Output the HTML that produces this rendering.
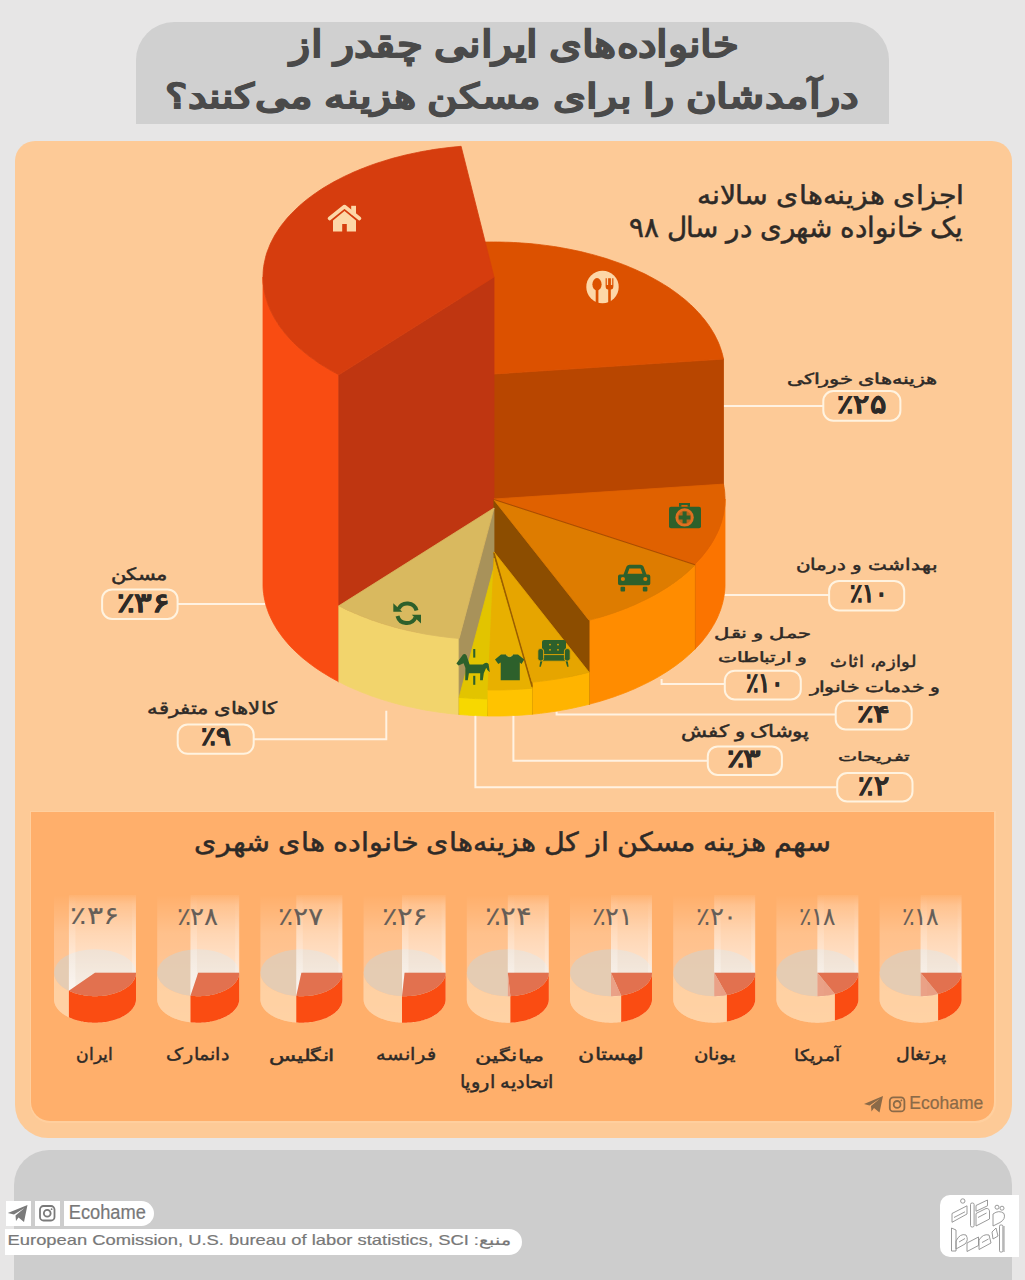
<!DOCTYPE html>
<html lang="fa"><head><meta charset="utf-8">
<style>
*{margin:0;padding:0;box-sizing:border-box}
html,body{width:1025px;height:1280px;overflow:hidden;background:#e7e6e6}
body{position:relative;font-family:"Liberation Sans",sans-serif;color:#333}
.a{position:absolute}
.t{position:absolute;white-space:nowrap;transform-origin:0 0}
svg{position:absolute;left:0;top:0}
</style></head><body>
<div class="a" style="left:135.5px;top:21.5px;width:753px;height:102px;background:#d0d0d0;border-radius:38px 38px 0 0"></div>
<div class="a" style="left:14.5px;top:140.7px;width:997px;height:997.5px;background:#fdca97;border-radius:20px 20px 33px 33px"></div>
<div class="a" style="left:29.5px;top:810.5px;width:966px;height:312px;background:#ffcf9e;border-radius:0 0 20px 20px"></div>
<div class="a" style="left:31px;top:812px;width:963px;height:309px;background:#ffaf6b;border-radius:0 0 19px 19px"></div>
<div class="a" style="left:14px;top:1150px;width:998px;height:140px;background:#cdcdcd;border-radius:35px 35px 0 0"></div>
<svg width="1025" height="1280" viewBox="0 0 1025 1280">
<defs>
<linearGradient id="tube" x1="0" y1="0" x2="0" y2="1">
<stop offset="0" stop-color="#fff" stop-opacity="0"/>
<stop offset="0.3" stop-color="#fff" stop-opacity="0.22"/>
<stop offset="1" stop-color="#fff" stop-opacity="0.36"/>
</linearGradient>
<linearGradient id="hl" x1="0" y1="0" x2="0" y2="1">
<stop offset="0" stop-color="#fff" stop-opacity="0"/>
<stop offset="0.3" stop-color="#fff" stop-opacity="0.12"/>
<stop offset="1" stop-color="#fff" stop-opacity="0.4"/>
</linearGradient>
<linearGradient id="col" x1="0" y1="0" x2="0" y2="1">
<stop offset="0" stop-color="#fff" stop-opacity="0.05"/>
<stop offset="0.1" stop-color="#fff" stop-opacity="0.2"/>
<stop offset="1" stop-color="#fff" stop-opacity="0.66"/>
</linearGradient>
</defs>
<g stroke="#fff2e2" stroke-width="2" fill="none">
<line x1="700" y1="406" x2="823" y2="406"/>
<line x1="700" y1="595" x2="829" y2="595"/>
<polyline points="661.6,678.9 661.6,684 725,684"/>
<polyline points="556.6,711.5 556.6,714.5 835,714.5"/>
<polyline points="513.4,700 513.4,760.7 707.5,760.7"/>
<polyline points="475.4,700 475.4,787.3 837,787.3"/>
<line x1="177.5" y1="604" x2="290" y2="604"/>
<polyline points="253.5,739.2 386.3,739.2 386.3,710.7"/>
</g>
<polygon points="494.0,374.0 461.1,243.3 461.1,453.3 494.0,584.0" fill="#c04a00" stroke="#c04a00" stroke-width="0.8" stroke-linejoin="round"/>
<polygon points="494.0,374.0 723.5,359.1 723.5,569.1 494.0,584.0" fill="#b84600" stroke="#b84600" stroke-width="0.8" stroke-linejoin="round"/>
<polygon points="494.0,374.0 461.1,243.3 465.1,243.0 469.1,242.8 473.2,242.5 477.2,242.3 481.3,242.2 485.3,242.1 489.4,242.0 493.4,242.0 497.5,242.0 501.6,242.1 505.6,242.2 509.7,242.3 513.7,242.5 517.8,242.7 521.8,243.0 525.8,243.3 529.9,243.6 533.9,244.0 537.9,244.4 541.8,244.9 545.8,245.4 549.8,245.9 553.7,246.5 557.6,247.1 561.5,247.8 565.4,248.5 569.2,249.2 573.1,250.0 576.9,250.8 580.6,251.6 584.4,252.5 588.1,253.5 591.8,254.4 595.5,255.4 599.1,256.5 602.7,257.5 606.3,258.6 609.8,259.8 613.3,261.0 616.8,262.2 620.2,263.4 623.6,264.7 626.9,266.0 630.2,267.4 633.5,268.8 636.7,270.2 639.9,271.7 643.0,273.1 646.1,274.6 649.1,276.2 652.1,277.8 655.0,279.4 657.9,281.0 660.8,282.7 663.6,284.4 666.3,286.1 669.0,287.8 671.6,289.6 674.2,291.4 676.7,293.2 679.1,295.1 681.5,296.9 683.9,298.8 686.2,300.7 688.4,302.7 690.6,304.7 692.7,306.6 694.7,308.6 696.7,310.7 698.6,312.7 700.5,314.8 702.2,316.9 704.0,319.0 705.6,321.1 707.2,323.2 708.8,325.4 710.2,327.5 711.6,329.7 712.9,331.9 714.2,334.1 715.4,336.3 716.5,338.6 717.6,340.8 718.6,343.1 719.5,345.3 720.3,347.6 721.1,349.9 721.8,352.2 722.5,354.5 723.0,356.8 723.5,359.1" fill="#dc5100" stroke="#dc5100" stroke-width="0.8" stroke-linejoin="round"/>
<polygon points="338.8,374.8 335.8,373.2 332.9,371.6 329.9,369.9 327.1,368.2 324.3,366.5 321.5,364.8 318.8,363.0 316.2,361.3 313.6,359.4 311.1,357.6 308.6,355.7 306.2,353.8 303.8,351.9 301.5,350.0 299.3,348.0 297.1,346.0 295.0,344.0 292.9,342.0 290.9,339.9 289.0,337.9 287.2,335.8 285.4,333.7 283.6,331.5 282.0,329.4 280.4,327.2 278.9,325.1 277.4,322.9 276.0,320.7 274.7,318.5 273.4,316.2 272.3,314.0 271.1,311.7 270.1,309.5 269.1,307.2 268.2,304.9 267.4,302.6 266.6,300.3 265.9,298.0 265.3,295.7 264.8,293.4 264.3,291.0 263.9,288.7 263.6,286.4 263.3,284.0 263.1,281.7 263.0,279.3 263.0,277.0 263.0,584.0 263.0,586.3 263.1,588.7 263.3,591.0 263.6,593.4 263.9,595.7 264.3,598.0 264.8,600.4 265.3,602.7 265.9,605.0 266.6,607.3 267.4,609.6 268.2,611.9 269.1,614.2 270.1,616.5 271.1,618.7 272.3,621.0 273.4,623.2 274.7,625.5 276.0,627.7 277.4,629.9 278.9,632.1 280.4,634.2 282.0,636.4 283.6,638.5 285.4,640.7 287.2,642.8 289.0,644.9 290.9,646.9 292.9,649.0 295.0,651.0 297.1,653.0 299.3,655.0 301.5,657.0 303.8,658.9 306.2,660.8 308.6,662.7 311.1,664.6 313.6,666.4 316.2,668.3 318.8,670.0 321.5,671.8 324.3,673.5 327.1,675.2 329.9,676.9 332.9,678.6 335.8,680.2 338.8,681.8" fill="#f94c12" stroke="#f94c12" stroke-width="0.8" stroke-linejoin="round"/>
<polygon points="494.0,277.0 338.8,374.8 338.8,681.8 494.0,584.0" fill="#bf3611" stroke="#bf3611" stroke-width="0.8" stroke-linejoin="round"/>
<polygon points="494.0,277.0 338.8,374.8 335.9,373.2 332.9,371.6 330.0,370.0 327.2,368.3 324.4,366.6 321.7,364.9 319.0,363.2 316.4,361.4 313.9,359.6 311.4,357.8 308.9,356.0 306.5,354.1 304.2,352.2 301.9,350.3 299.7,348.4 297.5,346.4 295.4,344.4 293.4,342.4 291.4,340.4 289.5,338.4 287.6,336.3 285.8,334.2 284.1,332.1 282.5,330.0 280.9,327.9 279.3,325.8 277.9,323.6 276.5,321.4 275.1,319.2 273.9,317.0 272.7,314.8 271.6,312.6 270.5,310.4 269.5,308.1 268.6,305.9 267.7,303.6 267.0,301.3 266.3,299.1 265.6,296.8 265.0,294.5 264.5,292.2 264.1,289.9 263.7,287.6 263.5,285.3 263.2,283.0 263.1,280.7 263.0,278.3 263.0,276.0 263.1,273.7 263.2,271.4 263.4,269.1 263.7,266.8 264.0,264.5 264.5,262.2 265.0,259.9 265.5,257.6 266.1,255.3 266.8,253.0 267.6,250.7 268.5,248.5 269.4,246.2 270.3,244.0 271.4,241.7 272.5,239.5 273.7,237.3 274.9,235.1 276.3,232.9 277.7,230.7 279.1,228.6 280.6,226.4 282.2,224.3 283.9,222.2 285.6,220.1 287.3,218.0 289.2,215.9 291.1,213.9 293.1,211.9 295.1,209.9 297.2,207.9 299.3,205.9 301.5,204.0 303.8,202.1 306.1,200.2 308.5,198.3 311.0,196.5 313.5,194.6 316.0,192.9 318.6,191.1 321.3,189.3 324.0,187.6 326.8,185.9 329.6,184.3 332.5,182.6 335.4,181.0 338.4,179.5 341.4,177.9 344.4,176.4 347.6,174.9 350.7,173.5 353.9,172.0 357.1,170.7 360.4,169.3 363.8,168.0 367.1,166.7 370.5,165.4 374.0,164.2 377.4,163.0 381.0,161.9 384.5,160.8 388.1,159.7 391.7,158.6 395.4,157.6 399.0,156.7 402.7,155.7 406.5,154.8 410.2,154.0 414.0,153.2 417.8,152.4 421.7,151.6 425.5,150.9 429.4,150.3 433.3,149.6 437.2,149.0 441.2,148.5 445.1,148.0 449.1,147.5 453.1,147.1 457.0,146.7 461.1,146.3" fill="#d63d0e" stroke="#d63d0e" stroke-width="0.8" stroke-linejoin="round"/>
<polygon points="725.0,499.0 725.0,501.4 724.9,503.7 724.7,506.1 724.4,508.4 724.1,510.7 723.7,513.1 723.2,515.4 722.7,517.7 722.0,520.1 721.3,522.4 720.6,524.7 719.7,527.0 718.8,529.3 717.9,531.6 716.8,533.9 715.7,536.1 714.5,538.4 713.2,540.6 711.9,542.8 710.5,545.0 709.0,547.2 707.5,549.4 705.9,551.6 704.2,553.7 702.5,555.9 700.7,558.0 698.8,560.1 696.9,562.1 694.9,564.2 694.9,649.2 696.9,647.1 698.8,645.1 700.7,643.0 702.5,640.9 704.2,638.7 705.9,636.6 707.5,634.4 709.0,632.2 710.5,630.0 711.9,627.8 713.2,625.6 714.5,623.4 715.7,621.1 716.8,618.9 717.9,616.6 718.8,614.3 719.7,612.0 720.6,609.7 721.3,607.4 722.0,605.1 722.7,602.7 723.2,600.4 723.7,598.1 724.1,595.7 724.4,593.4 724.7,591.1 724.9,588.7 725.0,586.4 725.0,584.0" fill="#fb7400" stroke="#fb7400" stroke-width="0.8" stroke-linejoin="round"/>
<polygon points="494.0,499.0 694.9,564.2 694.9,649.2 494.0,584.0" fill="#a84a00" stroke="#a84a00" stroke-width="0.8" stroke-linejoin="round"/>
<polygon points="494.0,499.0 723.5,484.1 723.9,486.4 724.3,488.7 724.6,491.0 724.8,493.3 724.9,495.6 725.0,497.9 725.0,500.2 724.9,502.5 724.8,504.8 724.6,507.1 724.3,509.4 723.9,511.7 723.5,514.0 723.0,516.3 722.4,518.6 721.8,520.9 721.1,523.2 720.3,525.4 719.5,527.7 718.6,529.9 717.6,532.2 716.5,534.4 715.4,536.6 714.2,538.8 713.0,541.0 711.7,543.2 710.3,545.4 708.8,547.5 707.3,549.7 705.7,551.8 704.1,553.9 702.3,556.0 700.6,558.1 698.7,560.1 696.8,562.2 694.9,564.2" fill="#e06100" stroke="#e06100" stroke-width="0.8" stroke-linejoin="round"/>
<polygon points="694.9,565.2 692.8,567.2 690.7,569.2 688.6,571.1 686.4,573.1 684.1,575.0 681.8,576.9 679.4,578.7 677.0,580.6 674.5,582.4 671.9,584.2 669.3,586.0 666.7,587.7 663.9,589.4 661.2,591.1 658.4,592.8 655.5,594.4 652.6,596.0 649.6,597.6 646.6,599.1 643.5,600.6 640.4,602.1 637.3,603.5 634.1,605.0 630.9,606.3 627.6,607.7 624.3,609.0 620.9,610.3 617.5,611.5 614.1,612.8 610.6,613.9 607.1,615.1 603.6,616.2 600.0,617.3 596.4,618.3 592.7,619.3 589.1,620.3 589.1,704.3 592.7,703.3 596.4,702.3 600.0,701.3 603.6,700.2 607.1,699.1 610.6,697.9 614.1,696.8 617.5,695.5 620.9,694.3 624.3,693.0 627.6,691.7 630.9,690.3 634.1,689.0 637.3,687.5 640.4,686.1 643.5,684.6 646.6,683.1 649.6,681.6 652.6,680.0 655.5,678.4 658.4,676.8 661.2,675.1 663.9,673.4 666.7,671.7 669.3,670.0 671.9,668.2 674.5,666.4 677.0,664.6 679.4,662.7 681.8,660.9 684.1,659.0 686.4,657.1 688.6,655.1 690.7,653.2 692.8,651.2 694.9,649.2" fill="#ff8c00" stroke="#ff8c00" stroke-width="0.8" stroke-linejoin="round"/>
<polygon points="494.0,500.0 589.1,620.3 589.1,704.3 494.0,584.0" fill="#8c4d00" stroke="#8c4d00" stroke-width="0.8" stroke-linejoin="round"/>
<polygon points="494.0,500.0 694.9,565.2 692.8,567.2 690.7,569.2 688.6,571.1 686.4,573.1 684.1,575.0 681.8,576.9 679.4,578.7 677.0,580.6 674.5,582.4 671.9,584.2 669.3,586.0 666.7,587.7 663.9,589.4 661.2,591.1 658.4,592.8 655.5,594.4 652.6,596.0 649.6,597.6 646.6,599.1 643.5,600.6 640.4,602.1 637.3,603.5 634.1,605.0 630.9,606.3 627.6,607.7 624.3,609.0 620.9,610.3 617.5,611.5 614.1,612.8 610.6,613.9 607.1,615.1 603.6,616.2 600.0,617.3 596.4,618.3 592.7,619.3 589.1,620.3" fill="#de7c00" stroke="#de7c00" stroke-width="0.8" stroke-linejoin="round"/>
<polygon points="459.1,638.5 455.0,638.1 451.0,637.7 447.0,637.2 443.0,636.7 439.0,636.2 435.0,635.6 431.1,635.0 427.2,634.4 423.2,633.7 419.4,632.9 415.5,632.1 411.7,631.3 407.9,630.5 404.1,629.6 400.3,628.7 396.6,627.7 392.9,626.7 389.2,625.6 385.6,624.6 382.0,623.4 378.4,622.3 374.9,621.1 371.4,619.9 368.0,618.6 364.6,617.3 361.2,616.0 357.9,614.6 354.6,613.2 351.3,611.8 348.1,610.4 345.0,608.9 341.9,607.3 338.8,605.8 338.8,681.8 341.9,683.3 345.0,684.9 348.1,686.4 351.3,687.8 354.6,689.2 357.9,690.6 361.2,692.0 364.6,693.3 368.0,694.6 371.4,695.9 374.9,697.1 378.4,698.3 382.0,699.4 385.6,700.6 389.2,701.6 392.9,702.7 396.6,703.7 400.3,704.7 404.1,705.6 407.9,706.5 411.7,707.3 415.5,708.1 419.4,708.9 423.2,709.7 427.2,710.4 431.1,711.0 435.0,711.6 439.0,712.2 443.0,712.7 447.0,713.2 451.0,713.7 455.0,714.1 459.1,714.5" fill="#f2d46c" stroke="#f2d46c" stroke-width="0.8" stroke-linejoin="round"/>
<polygon points="494.0,508.0 459.1,638.5 459.1,714.5 494.0,584.0" fill="#a8925a" stroke="#a8925a" stroke-width="0.8" stroke-linejoin="round"/>
<polygon points="494.0,508.0 459.1,638.5 455.0,638.1 451.0,637.7 447.0,637.2 443.0,636.7 439.0,636.2 435.0,635.6 431.1,635.0 427.2,634.4 423.2,633.7 419.4,632.9 415.5,632.1 411.7,631.3 407.9,630.5 404.1,629.6 400.3,628.7 396.6,627.7 392.9,626.7 389.2,625.6 385.6,624.6 382.0,623.4 378.4,622.3 374.9,621.1 371.4,619.9 368.0,618.6 364.6,617.3 361.2,616.0 357.9,614.6 354.6,613.2 351.3,611.8 348.1,610.4 345.0,608.9 341.9,607.3 338.8,605.8" fill="#d9b95f" stroke="#d9b95f" stroke-width="0.8" stroke-linejoin="round"/>
<polygon points="589.1,672.3 585.2,673.3 581.2,674.2 577.3,675.1 573.3,676.0 569.3,676.8 565.2,677.6 561.2,678.3 557.1,679.0 553.0,679.6 548.8,680.2 544.7,680.8 540.5,681.3 536.3,681.8 532.1,682.2 532.1,714.2 536.3,713.8 540.5,713.3 544.7,712.8 548.8,712.2 553.0,711.6 557.1,711.0 561.2,710.3 565.2,709.6 569.3,708.8 573.3,708.0 577.3,707.1 581.2,706.2 585.2,705.3 589.1,704.3" fill="#ffb400" stroke="#ffb400" stroke-width="0.8" stroke-linejoin="round"/>
<polygon points="494.0,552.0 532.1,682.2 532.1,714.2 494.0,584.0" fill="#9a6200" stroke="#9a6200" stroke-width="0.8" stroke-linejoin="round"/>
<polygon points="494.0,552.0 589.1,672.3 585.2,673.3 581.2,674.2 577.3,675.1 573.3,676.0 569.3,676.8 565.2,677.6 561.2,678.3 557.1,679.0 553.0,679.6 548.8,680.2 544.7,680.8 540.5,681.3 536.3,681.8 532.1,682.2" fill="#e6a500" stroke="#e6a500" stroke-width="0.8" stroke-linejoin="round"/>
<polygon points="488.0,699.0 483.8,698.9 479.7,698.7 475.5,698.6 471.4,698.4 467.3,698.1 463.2,697.8 459.1,697.5 459.1,714.5 463.2,714.8 467.3,715.1 471.4,715.4 475.5,715.6 479.7,715.7 483.8,715.9 488.0,716.0" fill="#f7d800" stroke="#f7d800" stroke-width="0.8" stroke-linejoin="round"/>
<polygon points="494.0,567.0 488.0,699.0 488.0,716.0 494.0,584.0" fill="#c0a000" stroke="#c0a000" stroke-width="0.8" stroke-linejoin="round"/>
<polygon points="494.0,567.0 488.0,699.0 483.8,698.9 479.7,698.7 475.5,698.6 471.4,698.4 467.3,698.1 463.2,697.8 459.1,697.5" fill="#e2c400" stroke="#e2c400" stroke-width="0.8" stroke-linejoin="round"/>
<polygon points="532.1,688.2 528.1,688.6 524.2,688.9 520.1,689.2 516.1,689.4 512.1,689.6 508.1,689.8 504.1,689.9 500.0,690.0 496.0,690.0 492.0,690.0 488.0,690.0 488.0,716.0 492.0,716.0 496.0,716.0 500.0,716.0 504.1,715.9 508.1,715.8 512.1,715.6 516.1,715.4 520.1,715.2 524.2,714.9 528.1,714.6 532.1,714.2" fill="#ffc300" stroke="#ffc300" stroke-width="0.8" stroke-linejoin="round"/>
<polygon points="494.0,558.0 532.1,688.2 528.1,688.6 524.2,688.9 520.1,689.2 516.1,689.4 512.1,689.6 508.1,689.8 504.1,689.9 500.0,690.0 496.0,690.0 492.0,690.0 488.0,690.0" fill="#e8b000" stroke="#e8b000" stroke-width="0.8" stroke-linejoin="round"/>
<line x1="494.0" y1="499.5" x2="694.9" y2="564.7" stroke="#a04800" stroke-width="0.8"/>
<line x1="494.0" y1="553" x2="532.1" y2="686.7" stroke="#9a5e00" stroke-width="1.3"/>

<g fill="#fdd7a7">
 <polyline points="329.5,218.5 344.5,206.5 359.5,218.5" fill="none" stroke="#fdd7a7" stroke-width="3.6" stroke-linecap="round" stroke-linejoin="round"/>
 <rect x="351.2" y="205.8" width="4.8" height="8.5"/>
 <path d="M333,220.5 L344.5,211 L356,220.5 L356,231.5 L346.8,231.5 L346.8,224 L342.2,224 L342.2,231.5 L333,231.5 Z"/>
</g>
<g>
 <circle cx="602.5" cy="287" r="16.2" fill="#fdd7a7"/>
 <ellipse cx="597" cy="284.3" rx="4.6" ry="6.2" fill="#dc5100"/>
 <rect x="595.7" y="288" width="2.7" height="16" fill="#dc5100"/>
 <path d="M605.6,278.2 L605.6,286 Q605.6,289.5 608.2,289.5 L608.2,304 L610.8,304 L610.8,289.5 Q613.4,289.5 613.4,286 L613.4,278.2 L612.2,278.2 L612.2,285 L610.9,285 L610.9,278.2 L608.1,278.2 L608.1,285 L606.8,285 L606.8,278.2 Z" fill="#dc5100"/>
</g>
<g fill="#2d602b">
 <rect x="669" y="506.7" width="32" height="21.5" rx="2"/>
 <path d="M679,506.7 V503 H690 V506.7 H687.6 V505 H681.4 V506.7 Z"/>
 <circle cx="684.6" cy="517.4" r="9.2" fill="#e27020"/>
 <circle cx="684.6" cy="517.4" r="6.6" fill="#b8651a"/>
 <path d="M682.6,511.6 h4 v3.8 h3.8 v4 h-3.8 v3.8 h-4 v-3.8 h-3.8 v-4 h3.8 z" fill="#2d602b"/>
</g>
<g fill="#2d602b">
 <path d="M623.5,574.5 L626.5,566.5 Q627.5,564.8 629.5,564.8 L640.5,564.8 Q642.5,564.8 643.5,566.5 L646.5,574.5 L648.5,574.5 Q650.3,574.5 650.3,576.5 L650.3,583.5 Q650.3,585.3 648.5,585.3 L619.8,585.3 Q618,585.3 618,583.5 L618,576.5 Q618,574.5 619.8,574.5 Z M627.5,573.8 L642.5,573.8 L640.6,568.5 L629.4,568.5 Z"/>
 <circle cx="622.9" cy="579" r="2.1" fill="#de7c00"/>
 <circle cx="645.3" cy="579" r="2.1" fill="#de7c00"/>
 <rect x="620.5" y="586.8" width="4.6" height="4.8" rx="1"/>
 <rect x="642.8" y="586.8" width="4.6" height="4.8" rx="1"/>
</g>
<g fill="none" stroke="#2d602b" stroke-width="4">
 <path d="M398.5,609 A9.6,9.6 0 0 1 416.5,610.5"/>
 <path d="M415.5,617.5 A9.6,9.6 0 0 1 397.5,616"/>
</g>
<g fill="#2d602b">
 <path d="M393.3,603.2 L393.3,611.8 L402.2,611.8 Z"/>
 <path d="M421,614.8 L421,623.4 L411.8,614.8 Z"/>
</g>
<g fill="#2d602b">
 <rect x="542" y="640" width="24" height="14.5" rx="2"/>
 <path d="M540.4,660 L539.4,666.8 L540.8,666.8 L542.8,660 Z M567.6,660 L568.6,666.8 L567.2,666.8 L565.2,660 Z"/>
 <rect x="541.8" y="654.6" width="24.4" height="6.6" rx="1" stroke="#e6a500" stroke-width="0.9"/>
 <rect x="537.8" y="648.6" width="5.8" height="12.4" rx="2.4" stroke="#e6a500" stroke-width="0.9"/>
 <rect x="564.4" y="648.6" width="5.8" height="12.4" rx="2.4" stroke="#e6a500" stroke-width="0.9"/>
 <circle cx="550" cy="644.6" r="0.9" fill="#e6a500"/><circle cx="558" cy="644.6" r="0.9" fill="#e6a500"/>
 <circle cx="550" cy="649.8" r="0.9" fill="#e6a500"/><circle cx="558" cy="649.8" r="0.9" fill="#e6a500"/>
</g>
<g fill="#2d602b">
 <path d="M501,654.6 L506,654.6 Q509.5,658.6 513,654.6 L518,654.6 L524.3,659.5 L521.5,664 L519.8,662.5 L519.8,680.2 L500.7,680.2 L500.7,662.5 L498.3,664 L495,659.5 Z"/>
 <path d="M506,654.6 Q509.5,658.6 513,654.6" fill="none" stroke="#efc030" stroke-width="0.9"/>
</g>
<g fill="#2d602b">
 <rect x="473.2" y="649" width="2.1" height="8.6"/>
 <rect x="473.2" y="675.8" width="2.1" height="9"/>
 <path d="M456.4,663.4 L463,654.5 Q465,653.3 466.6,655.5 L469.6,664.6 L482.8,664.6 Q486,661.3 488.6,664 L489.8,672.3 L487.4,670 L486.2,667.8 L483.8,673.2 L482.8,680.2 L480.1,680.2 L480.2,673.2 L468.9,673.2 L467.8,680.2 L465.2,680.2 L465.4,668 L463.6,663.2 L458.6,665.6 Z"/>
</g>

<rect x="823.3" y="391.1" width="77.10000000000002" height="29.599999999999966" rx="10" fill="none" stroke="#fff3e0" stroke-width="2"/>
<rect x="829.1" y="580.9" width="75.10000000000002" height="29.5" rx="10" fill="none" stroke="#fff3e0" stroke-width="2"/>
<rect x="724.8" y="670.7" width="76.0" height="28.699999999999932" rx="10" fill="none" stroke="#fff3e0" stroke-width="2"/>
<rect x="835.7" y="700.7" width="76.0" height="28.699999999999932" rx="10" fill="none" stroke="#fff3e0" stroke-width="2"/>
<rect x="707.8" y="746.4" width="74.10000000000002" height="28.5" rx="10" fill="none" stroke="#fff3e0" stroke-width="2"/>
<rect x="837.2" y="773.1" width="75.29999999999995" height="28.399999999999977" rx="10" fill="none" stroke="#fff3e0" stroke-width="2"/>
<rect x="102.1" y="589.4" width="75.5" height="29.5" rx="10" fill="none" stroke="#fff3e0" stroke-width="2"/>
<rect x="177.7" y="724.6" width="76.0" height="29.199999999999932" rx="10" fill="none" stroke="#fff3e0" stroke-width="2"/>
<polygon points="54.0,895.0 136.0,895.0 136.0,999.2 136.0,1000.0 135.9,1000.8 135.8,1001.7 135.6,1002.5 135.4,1003.3 135.1,1004.1 134.8,1004.9 134.4,1005.7 134.0,1006.5 133.5,1007.2 133.0,1008.0 132.5,1008.8 131.9,1009.5 131.2,1010.2 130.5,1011.0 129.8,1011.7 129.0,1012.3 128.2,1013.0 127.3,1013.7 126.4,1014.3 125.5,1014.9 124.5,1015.5 123.5,1016.1 122.4,1016.7 121.4,1017.2 120.2,1017.7 119.1,1018.2 117.9,1018.7 116.7,1019.1 115.5,1019.6 114.2,1019.9 113.0,1020.3 111.7,1020.7 110.4,1021.0 109.0,1021.3 107.7,1021.5 106.3,1021.8 104.9,1022.0 103.5,1022.2 102.1,1022.3 100.7,1022.5 99.3,1022.6 97.9,1022.6 96.4,1022.7 95.0,1022.7 93.6,1022.7 92.1,1022.6 90.7,1022.6 89.3,1022.5 87.9,1022.3 86.5,1022.2 85.1,1022.0 83.7,1021.8 82.3,1021.5 81.0,1021.3 79.6,1021.0 78.3,1020.7 77.0,1020.3 75.8,1019.9 74.5,1019.6 73.3,1019.1 72.1,1018.7 70.9,1018.2 69.8,1017.7 68.6,1017.2 67.6,1016.7 66.5,1016.1 65.5,1015.5 64.5,1014.9 63.6,1014.3 62.7,1013.7 61.8,1013.0 61.0,1012.3 60.2,1011.7 59.5,1011.0 58.8,1010.2 58.1,1009.5 57.5,1008.8 57.0,1008.0 56.5,1007.2 56.0,1006.5 55.6,1005.7 55.2,1004.9 54.9,1004.1 54.6,1003.3 54.4,1002.5 54.2,1001.7 54.1,1000.8 54.0,1000.0 54.0,999.2" fill="url(#tube)"/>
<polygon points="136.0,972.7 136.0,973.5 135.9,974.3 135.8,975.2 135.6,976.0 135.4,976.8 135.1,977.6 134.8,978.4 134.4,979.2 134.0,980.0 133.5,980.7 133.0,981.5 132.5,982.3 131.9,983.0 131.2,983.7 130.5,984.5 129.8,985.2 129.0,985.8 128.2,986.5 127.3,987.2 126.4,987.8 125.5,988.4 124.5,989.0 123.5,989.6 122.4,990.2 121.4,990.7 120.2,991.2 119.1,991.7 117.9,992.2 116.7,992.6 115.5,993.1 114.2,993.4 113.0,993.8 111.7,994.2 110.4,994.5 109.0,994.8 107.7,995.0 106.3,995.3 104.9,995.5 103.5,995.7 102.1,995.8 100.7,996.0 99.3,996.1 97.9,996.1 96.4,996.2 95.0,996.2 93.6,996.2 92.1,996.1 90.7,996.1 89.3,996.0 87.9,995.8 86.5,995.7 85.1,995.5 83.7,995.3 82.3,995.0 81.0,994.8 79.6,994.5 78.3,994.2 77.0,993.8 75.8,993.4 74.5,993.1 73.3,992.6 72.1,992.2 70.9,991.7 69.8,991.2 68.6,990.7 67.6,990.2 66.5,989.6 65.5,989.0 64.5,988.4 63.6,987.8 62.7,987.2 61.8,986.5 61.0,985.8 60.2,985.2 59.5,984.5 58.8,983.7 58.1,983.0 57.5,982.3 57.0,981.5 56.5,980.7 56.0,980.0 55.6,979.2 55.2,978.4 54.9,977.6 54.6,976.8 54.4,976.0 54.2,975.2 54.1,974.3 54.0,973.5 54.0,972.7 54.0,999.2 54.0,1000.0 54.1,1000.8 54.2,1001.7 54.4,1002.5 54.6,1003.3 54.9,1004.1 55.2,1004.9 55.6,1005.7 56.0,1006.5 56.5,1007.2 57.0,1008.0 57.5,1008.8 58.1,1009.5 58.8,1010.2 59.5,1011.0 60.2,1011.7 61.0,1012.3 61.8,1013.0 62.7,1013.7 63.6,1014.3 64.5,1014.9 65.5,1015.5 66.5,1016.1 67.6,1016.7 68.6,1017.2 69.8,1017.7 70.9,1018.2 72.1,1018.7 73.3,1019.1 74.5,1019.6 75.8,1019.9 77.0,1020.3 78.3,1020.7 79.6,1021.0 81.0,1021.3 82.3,1021.5 83.7,1021.8 85.1,1022.0 86.5,1022.2 87.9,1022.3 89.3,1022.5 90.7,1022.6 92.1,1022.6 93.6,1022.7 95.0,1022.7 96.4,1022.7 97.9,1022.6 99.3,1022.6 100.7,1022.5 102.1,1022.3 103.5,1022.2 104.9,1022.0 106.3,1021.8 107.7,1021.5 109.0,1021.3 110.4,1021.0 111.7,1020.7 113.0,1020.3 114.2,1019.9 115.5,1019.6 116.7,1019.1 117.9,1018.7 119.1,1018.2 120.2,1017.7 121.4,1017.2 122.4,1016.7 123.5,1016.1 124.5,1015.5 125.5,1014.9 126.4,1014.3 127.3,1013.7 128.2,1013.0 129.0,1012.3 129.8,1011.7 130.5,1011.0 131.2,1010.2 131.9,1009.5 132.5,1008.8 133.0,1008.0 133.5,1007.2 134.0,1006.5 134.4,1005.7 134.8,1004.9 135.1,1004.1 135.4,1003.3 135.6,1002.5 135.8,1001.7 135.9,1000.8 136.0,1000.0 136.0,999.2" fill="#ffd4a6" fill-opacity="0.7"/>
<ellipse cx="95.0" cy="972.7" rx="41.0" ry="23.5" fill="#e2ccb6" fill-opacity="0.9"/>
<polygon points="68.9,895.0 136.0,895.0 136.0,972.7 95.0,972.7 68.9,990.8" fill="url(#col)"/>
<rect x="68.9" y="895" width="6.5" height="95.8" fill="url(#hl)"/>
<rect x="132.0" y="895" width="3.5" height="77.7" fill="url(#hl)" opacity="0.6"/>
<polygon points="136.0,972.7 136.0,973.5 135.9,974.4 135.8,975.2 135.6,976.0 135.4,976.8 135.1,977.6 134.8,978.5 134.4,979.3 133.9,980.0 133.5,980.8 132.9,981.6 132.4,982.4 131.7,983.1 131.1,983.9 130.4,984.6 129.6,985.3 128.8,986.0 128.0,986.7 127.1,987.3 126.2,988.0 125.2,988.6 124.2,989.2 123.2,989.8 122.1,990.3 121.0,990.9 119.9,991.4 118.7,991.9 117.5,992.3 116.3,992.8 115.0,993.2 113.8,993.6 112.5,994.0 111.1,994.3 109.8,994.6 108.4,994.9 107.1,995.2 105.7,995.4 104.3,995.6 102.8,995.8 101.4,995.9 100.0,996.0 98.5,996.1 97.1,996.2 95.6,996.2 94.2,996.2 92.7,996.2 91.3,996.1 89.9,996.0 88.4,995.9 87.0,995.7 85.6,995.6 84.2,995.4 82.8,995.1 81.4,994.9 80.1,994.6 78.7,994.3 77.4,993.9 76.1,993.6 74.8,993.2 73.6,992.7 72.4,992.3 71.2,991.8 70.0,991.3 68.9,990.8 68.9,1017.3 70.0,1017.8 71.2,1018.3 72.4,1018.8 73.6,1019.2 74.8,1019.7 76.1,1020.1 77.4,1020.4 78.7,1020.8 80.1,1021.1 81.4,1021.4 82.8,1021.6 84.2,1021.9 85.6,1022.1 87.0,1022.2 88.4,1022.4 89.9,1022.5 91.3,1022.6 92.7,1022.7 94.2,1022.7 95.6,1022.7 97.1,1022.7 98.5,1022.6 100.0,1022.5 101.4,1022.4 102.8,1022.3 104.3,1022.1 105.7,1021.9 107.1,1021.7 108.4,1021.4 109.8,1021.1 111.1,1020.8 112.5,1020.5 113.8,1020.1 115.0,1019.7 116.3,1019.3 117.5,1018.8 118.7,1018.4 119.9,1017.9 121.0,1017.4 122.1,1016.8 123.2,1016.3 124.2,1015.7 125.2,1015.1 126.2,1014.5 127.1,1013.8 128.0,1013.2 128.8,1012.5 129.6,1011.8 130.4,1011.1 131.1,1010.4 131.7,1009.6 132.4,1008.9 132.9,1008.1 133.5,1007.3 133.9,1006.5 134.4,1005.8 134.8,1005.0 135.1,1004.1 135.4,1003.3 135.6,1002.5 135.8,1001.7 135.9,1000.9 136.0,1000.0 136.0,999.2" fill="#fa4c12"/>
<polygon points="95.0,972.7 136.0,972.7 136.0,973.5 135.9,974.4 135.8,975.2 135.6,976.0 135.4,976.8 135.1,977.6 134.8,978.5 134.4,979.3 133.9,980.0 133.5,980.8 132.9,981.6 132.4,982.4 131.7,983.1 131.1,983.9 130.4,984.6 129.6,985.3 128.8,986.0 128.0,986.7 127.1,987.3 126.2,988.0 125.2,988.6 124.2,989.2 123.2,989.8 122.1,990.3 121.0,990.9 119.9,991.4 118.7,991.9 117.5,992.3 116.3,992.8 115.0,993.2 113.8,993.6 112.5,994.0 111.1,994.3 109.8,994.6 108.4,994.9 107.1,995.2 105.7,995.4 104.3,995.6 102.8,995.8 101.4,995.9 100.0,996.0 98.5,996.1 97.1,996.2 95.6,996.2 94.2,996.2 92.7,996.2 91.3,996.1 89.9,996.0 88.4,995.9 87.0,995.7 85.6,995.6 84.2,995.4 82.8,995.1 81.4,994.9 80.1,994.6 78.7,994.3 77.4,993.9 76.1,993.6 74.8,993.2 73.6,992.7 72.4,992.3 71.2,991.8 70.0,991.3 68.9,990.8" fill="#e2714f"/>
<polygon points="157.2,895.0 239.2,895.0 239.2,999.2 239.2,1000.0 239.1,1000.8 239.0,1001.7 238.8,1002.5 238.6,1003.3 238.3,1004.1 238.0,1004.9 237.6,1005.7 237.2,1006.5 236.7,1007.2 236.2,1008.0 235.7,1008.8 235.1,1009.5 234.4,1010.2 233.7,1011.0 233.0,1011.7 232.2,1012.3 231.4,1013.0 230.5,1013.7 229.6,1014.3 228.7,1014.9 227.7,1015.5 226.7,1016.1 225.6,1016.7 224.6,1017.2 223.4,1017.7 222.3,1018.2 221.1,1018.7 219.9,1019.1 218.7,1019.6 217.4,1019.9 216.2,1020.3 214.9,1020.7 213.6,1021.0 212.2,1021.3 210.9,1021.5 209.5,1021.8 208.1,1022.0 206.7,1022.2 205.3,1022.3 203.9,1022.5 202.5,1022.6 201.1,1022.6 199.6,1022.7 198.2,1022.7 196.8,1022.7 195.3,1022.6 193.9,1022.6 192.5,1022.5 191.1,1022.3 189.7,1022.2 188.3,1022.0 186.9,1021.8 185.5,1021.5 184.2,1021.3 182.8,1021.0 181.5,1020.7 180.2,1020.3 179.0,1019.9 177.7,1019.6 176.5,1019.1 175.3,1018.7 174.1,1018.2 173.0,1017.7 171.8,1017.2 170.8,1016.7 169.7,1016.1 168.7,1015.5 167.7,1014.9 166.8,1014.3 165.9,1013.7 165.0,1013.0 164.2,1012.3 163.4,1011.7 162.7,1011.0 162.0,1010.2 161.3,1009.5 160.7,1008.8 160.2,1008.0 159.7,1007.2 159.2,1006.5 158.8,1005.7 158.4,1004.9 158.1,1004.1 157.8,1003.3 157.6,1002.5 157.4,1001.7 157.3,1000.8 157.2,1000.0 157.2,999.2" fill="url(#tube)"/>
<polygon points="239.2,972.7 239.2,973.5 239.1,974.3 239.0,975.2 238.8,976.0 238.6,976.8 238.3,977.6 238.0,978.4 237.6,979.2 237.2,980.0 236.7,980.7 236.2,981.5 235.7,982.3 235.1,983.0 234.4,983.7 233.7,984.5 233.0,985.2 232.2,985.8 231.4,986.5 230.5,987.2 229.6,987.8 228.7,988.4 227.7,989.0 226.7,989.6 225.6,990.2 224.6,990.7 223.4,991.2 222.3,991.7 221.1,992.2 219.9,992.6 218.7,993.1 217.4,993.4 216.2,993.8 214.9,994.2 213.6,994.5 212.2,994.8 210.9,995.0 209.5,995.3 208.1,995.5 206.7,995.7 205.3,995.8 203.9,996.0 202.5,996.1 201.1,996.1 199.6,996.2 198.2,996.2 196.8,996.2 195.3,996.1 193.9,996.1 192.5,996.0 191.1,995.8 189.7,995.7 188.3,995.5 186.9,995.3 185.5,995.0 184.2,994.8 182.8,994.5 181.5,994.2 180.2,993.8 179.0,993.4 177.7,993.1 176.5,992.6 175.3,992.2 174.1,991.7 173.0,991.2 171.8,990.7 170.8,990.2 169.7,989.6 168.7,989.0 167.7,988.4 166.8,987.8 165.9,987.2 165.0,986.5 164.2,985.8 163.4,985.2 162.7,984.5 162.0,983.7 161.3,983.0 160.7,982.3 160.2,981.5 159.7,980.7 159.2,980.0 158.8,979.2 158.4,978.4 158.1,977.6 157.8,976.8 157.6,976.0 157.4,975.2 157.3,974.3 157.2,973.5 157.2,972.7 157.2,999.2 157.2,1000.0 157.3,1000.8 157.4,1001.7 157.6,1002.5 157.8,1003.3 158.1,1004.1 158.4,1004.9 158.8,1005.7 159.2,1006.5 159.7,1007.2 160.2,1008.0 160.7,1008.8 161.3,1009.5 162.0,1010.2 162.7,1011.0 163.4,1011.7 164.2,1012.3 165.0,1013.0 165.9,1013.7 166.8,1014.3 167.7,1014.9 168.7,1015.5 169.7,1016.1 170.8,1016.7 171.8,1017.2 173.0,1017.7 174.1,1018.2 175.3,1018.7 176.5,1019.1 177.7,1019.6 179.0,1019.9 180.2,1020.3 181.5,1020.7 182.8,1021.0 184.2,1021.3 185.5,1021.5 186.9,1021.8 188.3,1022.0 189.7,1022.2 191.1,1022.3 192.5,1022.5 193.9,1022.6 195.3,1022.6 196.8,1022.7 198.2,1022.7 199.6,1022.7 201.1,1022.6 202.5,1022.6 203.9,1022.5 205.3,1022.3 206.7,1022.2 208.1,1022.0 209.5,1021.8 210.9,1021.5 212.2,1021.3 213.6,1021.0 214.9,1020.7 216.2,1020.3 217.4,1019.9 218.7,1019.6 219.9,1019.1 221.1,1018.7 222.3,1018.2 223.4,1017.7 224.6,1017.2 225.6,1016.7 226.7,1016.1 227.7,1015.5 228.7,1014.9 229.6,1014.3 230.5,1013.7 231.4,1013.0 232.2,1012.3 233.0,1011.7 233.7,1011.0 234.4,1010.2 235.1,1009.5 235.7,1008.8 236.2,1008.0 236.7,1007.2 237.2,1006.5 237.6,1005.7 238.0,1004.9 238.3,1004.1 238.6,1003.3 238.8,1002.5 239.0,1001.7 239.1,1000.8 239.2,1000.0 239.2,999.2" fill="#ffd4a6" fill-opacity="0.7"/>
<ellipse cx="198.2" cy="972.7" rx="41.0" ry="23.5" fill="#e2ccb6" fill-opacity="0.9"/>
<polygon points="190.5,895.0 239.2,895.0 239.2,972.7 198.2,972.7 190.5,995.8" fill="url(#col)"/>
<rect x="190.5" y="895" width="6.5" height="100.8" fill="url(#hl)"/>
<rect x="235.2" y="895" width="3.5" height="77.7" fill="url(#hl)" opacity="0.6"/>
<polygon points="239.2,972.7 239.2,973.5 239.1,974.4 239.0,975.2 238.8,976.0 238.6,976.8 238.3,977.6 238.0,978.4 237.6,979.2 237.2,980.0 236.7,980.8 236.2,981.6 235.6,982.3 235.0,983.1 234.3,983.8 233.6,984.5 232.9,985.2 232.1,985.9 231.2,986.6 230.4,987.3 229.5,987.9 228.5,988.5 227.5,989.1 226.5,989.7 225.4,990.3 224.3,990.8 223.2,991.3 222.0,991.8 220.9,992.3 219.6,992.7 218.4,993.1 217.1,993.5 215.8,993.9 214.5,994.3 213.2,994.6 211.8,994.9 210.5,995.1 209.1,995.4 207.7,995.6 206.3,995.7 204.9,995.9 203.4,996.0 202.0,996.1 200.6,996.2 199.1,996.2 197.7,996.2 196.2,996.2 194.8,996.1 193.4,996.0 191.9,995.9 190.5,995.8 190.5,1022.3 191.9,1022.4 193.4,1022.5 194.8,1022.6 196.2,1022.7 197.7,1022.7 199.1,1022.7 200.6,1022.7 202.0,1022.6 203.4,1022.5 204.9,1022.4 206.3,1022.2 207.7,1022.1 209.1,1021.9 210.5,1021.6 211.8,1021.4 213.2,1021.1 214.5,1020.8 215.8,1020.4 217.1,1020.0 218.4,1019.6 219.6,1019.2 220.9,1018.8 222.0,1018.3 223.2,1017.8 224.3,1017.3 225.4,1016.8 226.5,1016.2 227.5,1015.6 228.5,1015.0 229.5,1014.4 230.4,1013.8 231.2,1013.1 232.1,1012.4 232.9,1011.7 233.6,1011.0 234.3,1010.3 235.0,1009.6 235.6,1008.8 236.2,1008.1 236.7,1007.3 237.2,1006.5 237.6,1005.7 238.0,1004.9 238.3,1004.1 238.6,1003.3 238.8,1002.5 239.0,1001.7 239.1,1000.9 239.2,1000.0 239.2,999.2" fill="#fa4c12"/>
<polygon points="198.2,972.7 239.2,972.7 239.2,973.5 239.1,974.4 239.0,975.2 238.8,976.0 238.6,976.8 238.3,977.6 238.0,978.4 237.6,979.2 237.2,980.0 236.7,980.8 236.2,981.6 235.6,982.3 235.0,983.1 234.3,983.8 233.6,984.5 232.9,985.2 232.1,985.9 231.2,986.6 230.4,987.3 229.5,987.9 228.5,988.5 227.5,989.1 226.5,989.7 225.4,990.3 224.3,990.8 223.2,991.3 222.0,991.8 220.9,992.3 219.6,992.7 218.4,993.1 217.1,993.5 215.8,993.9 214.5,994.3 213.2,994.6 211.8,994.9 210.5,995.1 209.1,995.4 207.7,995.6 206.3,995.7 204.9,995.9 203.4,996.0 202.0,996.1 200.6,996.2 199.1,996.2 197.7,996.2 196.2,996.2 194.8,996.1 193.4,996.0 191.9,995.9 190.5,995.8" fill="#e2714f"/>
<polygon points="260.4,895.0 342.4,895.0 342.4,999.2 342.4,1000.0 342.3,1000.8 342.2,1001.7 342.0,1002.5 341.8,1003.3 341.5,1004.1 341.2,1004.9 340.8,1005.7 340.4,1006.5 339.9,1007.2 339.4,1008.0 338.9,1008.8 338.3,1009.5 337.6,1010.2 336.9,1011.0 336.2,1011.7 335.4,1012.3 334.6,1013.0 333.7,1013.7 332.8,1014.3 331.9,1014.9 330.9,1015.5 329.9,1016.1 328.8,1016.7 327.8,1017.2 326.6,1017.7 325.5,1018.2 324.3,1018.7 323.1,1019.1 321.9,1019.6 320.6,1019.9 319.4,1020.3 318.1,1020.7 316.8,1021.0 315.4,1021.3 314.1,1021.5 312.7,1021.8 311.3,1022.0 309.9,1022.2 308.5,1022.3 307.1,1022.5 305.7,1022.6 304.3,1022.6 302.8,1022.7 301.4,1022.7 300.0,1022.7 298.5,1022.6 297.1,1022.6 295.7,1022.5 294.3,1022.3 292.9,1022.2 291.5,1022.0 290.1,1021.8 288.7,1021.5 287.4,1021.3 286.0,1021.0 284.7,1020.7 283.4,1020.3 282.2,1019.9 280.9,1019.6 279.7,1019.1 278.5,1018.7 277.3,1018.2 276.2,1017.7 275.0,1017.2 274.0,1016.7 272.9,1016.1 271.9,1015.5 270.9,1014.9 270.0,1014.3 269.1,1013.7 268.2,1013.0 267.4,1012.3 266.6,1011.7 265.9,1011.0 265.2,1010.2 264.5,1009.5 263.9,1008.8 263.4,1008.0 262.9,1007.2 262.4,1006.5 262.0,1005.7 261.6,1004.9 261.3,1004.1 261.0,1003.3 260.8,1002.5 260.6,1001.7 260.5,1000.8 260.4,1000.0 260.4,999.2" fill="url(#tube)"/>
<polygon points="342.4,972.7 342.4,973.5 342.3,974.3 342.2,975.2 342.0,976.0 341.8,976.8 341.5,977.6 341.2,978.4 340.8,979.2 340.4,980.0 339.9,980.7 339.4,981.5 338.9,982.3 338.3,983.0 337.6,983.7 336.9,984.5 336.2,985.2 335.4,985.8 334.6,986.5 333.7,987.2 332.8,987.8 331.9,988.4 330.9,989.0 329.9,989.6 328.8,990.2 327.8,990.7 326.6,991.2 325.5,991.7 324.3,992.2 323.1,992.6 321.9,993.1 320.6,993.4 319.4,993.8 318.1,994.2 316.8,994.5 315.4,994.8 314.1,995.0 312.7,995.3 311.3,995.5 309.9,995.7 308.5,995.8 307.1,996.0 305.7,996.1 304.3,996.1 302.8,996.2 301.4,996.2 300.0,996.2 298.5,996.1 297.1,996.1 295.7,996.0 294.3,995.8 292.9,995.7 291.5,995.5 290.1,995.3 288.7,995.0 287.4,994.8 286.0,994.5 284.7,994.2 283.4,993.8 282.2,993.4 280.9,993.1 279.7,992.6 278.5,992.2 277.3,991.7 276.2,991.2 275.0,990.7 274.0,990.2 272.9,989.6 271.9,989.0 270.9,988.4 270.0,987.8 269.1,987.2 268.2,986.5 267.4,985.8 266.6,985.2 265.9,984.5 265.2,983.7 264.5,983.0 263.9,982.3 263.4,981.5 262.9,980.7 262.4,980.0 262.0,979.2 261.6,978.4 261.3,977.6 261.0,976.8 260.8,976.0 260.6,975.2 260.5,974.3 260.4,973.5 260.4,972.7 260.4,999.2 260.4,1000.0 260.5,1000.8 260.6,1001.7 260.8,1002.5 261.0,1003.3 261.3,1004.1 261.6,1004.9 262.0,1005.7 262.4,1006.5 262.9,1007.2 263.4,1008.0 263.9,1008.8 264.5,1009.5 265.2,1010.2 265.9,1011.0 266.6,1011.7 267.4,1012.3 268.2,1013.0 269.1,1013.7 270.0,1014.3 270.9,1014.9 271.9,1015.5 272.9,1016.1 274.0,1016.7 275.0,1017.2 276.2,1017.7 277.3,1018.2 278.5,1018.7 279.7,1019.1 280.9,1019.6 282.2,1019.9 283.4,1020.3 284.7,1020.7 286.0,1021.0 287.4,1021.3 288.7,1021.5 290.1,1021.8 291.5,1022.0 292.9,1022.2 294.3,1022.3 295.7,1022.5 297.1,1022.6 298.5,1022.6 300.0,1022.7 301.4,1022.7 302.8,1022.7 304.3,1022.6 305.7,1022.6 307.1,1022.5 308.5,1022.3 309.9,1022.2 311.3,1022.0 312.7,1021.8 314.1,1021.5 315.4,1021.3 316.8,1021.0 318.1,1020.7 319.4,1020.3 320.6,1019.9 321.9,1019.6 323.1,1019.1 324.3,1018.7 325.5,1018.2 326.6,1017.7 327.8,1017.2 328.8,1016.7 329.9,1016.1 330.9,1015.5 331.9,1014.9 332.8,1014.3 333.7,1013.7 334.6,1013.0 335.4,1012.3 336.2,1011.7 336.9,1011.0 337.6,1010.2 338.3,1009.5 338.9,1008.8 339.4,1008.0 339.9,1007.2 340.4,1006.5 340.8,1005.7 341.2,1004.9 341.5,1004.1 341.8,1003.3 342.0,1002.5 342.2,1001.7 342.3,1000.8 342.4,1000.0 342.4,999.2" fill="#ffd4a6" fill-opacity="0.7"/>
<ellipse cx="301.4" cy="972.7" rx="41.0" ry="23.5" fill="#e2ccb6" fill-opacity="0.9"/>
<polygon points="296.3,895.0 342.4,895.0 342.4,972.7 301.4,972.7 296.3,996.0" fill="url(#col)"/>
<rect x="296.3" y="895" width="6.5" height="101.0" fill="url(#hl)"/>
<rect x="338.4" y="895" width="3.5" height="77.7" fill="url(#hl)" opacity="0.6"/>
<polygon points="342.4,972.7 342.4,973.5 342.3,974.4 342.2,975.2 342.0,976.0 341.8,976.8 341.5,977.6 341.2,978.5 340.8,979.3 340.3,980.0 339.9,980.8 339.3,981.6 338.8,982.4 338.1,983.1 337.5,983.9 336.8,984.6 336.0,985.3 335.2,986.0 334.4,986.7 333.5,987.3 332.6,988.0 331.6,988.6 330.6,989.2 329.6,989.8 328.5,990.3 327.4,990.9 326.3,991.4 325.1,991.9 323.9,992.3 322.7,992.8 321.4,993.2 320.2,993.6 318.9,994.0 317.5,994.3 316.2,994.6 314.8,994.9 313.5,995.2 312.1,995.4 310.7,995.6 309.2,995.8 307.8,995.9 306.4,996.0 304.9,996.1 303.5,996.2 302.0,996.2 300.6,996.2 299.1,996.2 297.7,996.1 296.3,996.0 296.3,1022.5 297.7,1022.6 299.1,1022.7 300.6,1022.7 302.0,1022.7 303.5,1022.7 304.9,1022.6 306.4,1022.5 307.8,1022.4 309.2,1022.3 310.7,1022.1 312.1,1021.9 313.5,1021.7 314.8,1021.4 316.2,1021.1 317.5,1020.8 318.9,1020.5 320.2,1020.1 321.4,1019.7 322.7,1019.3 323.9,1018.8 325.1,1018.4 326.3,1017.9 327.4,1017.4 328.5,1016.8 329.6,1016.3 330.6,1015.7 331.6,1015.1 332.6,1014.5 333.5,1013.8 334.4,1013.2 335.2,1012.5 336.0,1011.8 336.8,1011.1 337.5,1010.4 338.1,1009.6 338.8,1008.9 339.3,1008.1 339.9,1007.3 340.3,1006.5 340.8,1005.8 341.2,1005.0 341.5,1004.1 341.8,1003.3 342.0,1002.5 342.2,1001.7 342.3,1000.9 342.4,1000.0 342.4,999.2" fill="#fa4c12"/>
<polygon points="301.4,972.7 342.4,972.7 342.4,973.5 342.3,974.4 342.2,975.2 342.0,976.0 341.8,976.8 341.5,977.6 341.2,978.5 340.8,979.3 340.3,980.0 339.9,980.8 339.3,981.6 338.8,982.4 338.1,983.1 337.5,983.9 336.8,984.6 336.0,985.3 335.2,986.0 334.4,986.7 333.5,987.3 332.6,988.0 331.6,988.6 330.6,989.2 329.6,989.8 328.5,990.3 327.4,990.9 326.3,991.4 325.1,991.9 323.9,992.3 322.7,992.8 321.4,993.2 320.2,993.6 318.9,994.0 317.5,994.3 316.2,994.6 314.8,994.9 313.5,995.2 312.1,995.4 310.7,995.6 309.2,995.8 307.8,995.9 306.4,996.0 304.9,996.1 303.5,996.2 302.0,996.2 300.6,996.2 299.1,996.2 297.7,996.1 296.3,996.0" fill="#e2714f"/>
<polygon points="363.6,895.0 445.6,895.0 445.6,999.2 445.6,1000.0 445.5,1000.8 445.4,1001.7 445.2,1002.5 445.0,1003.3 444.7,1004.1 444.4,1004.9 444.0,1005.7 443.6,1006.5 443.1,1007.2 442.6,1008.0 442.1,1008.8 441.5,1009.5 440.8,1010.2 440.1,1011.0 439.4,1011.7 438.6,1012.3 437.8,1013.0 436.9,1013.7 436.0,1014.3 435.1,1014.9 434.1,1015.5 433.1,1016.1 432.0,1016.7 431.0,1017.2 429.8,1017.7 428.7,1018.2 427.5,1018.7 426.3,1019.1 425.1,1019.6 423.8,1019.9 422.6,1020.3 421.3,1020.7 420.0,1021.0 418.6,1021.3 417.3,1021.5 415.9,1021.8 414.5,1022.0 413.1,1022.2 411.7,1022.3 410.3,1022.5 408.9,1022.6 407.5,1022.6 406.0,1022.7 404.6,1022.7 403.2,1022.7 401.7,1022.6 400.3,1022.6 398.9,1022.5 397.5,1022.3 396.1,1022.2 394.7,1022.0 393.3,1021.8 391.9,1021.5 390.6,1021.3 389.2,1021.0 387.9,1020.7 386.6,1020.3 385.4,1019.9 384.1,1019.6 382.9,1019.1 381.7,1018.7 380.5,1018.2 379.4,1017.7 378.2,1017.2 377.2,1016.7 376.1,1016.1 375.1,1015.5 374.1,1014.9 373.2,1014.3 372.3,1013.7 371.4,1013.0 370.6,1012.3 369.8,1011.7 369.1,1011.0 368.4,1010.2 367.7,1009.5 367.1,1008.8 366.6,1008.0 366.1,1007.2 365.6,1006.5 365.2,1005.7 364.8,1004.9 364.5,1004.1 364.2,1003.3 364.0,1002.5 363.8,1001.7 363.7,1000.8 363.6,1000.0 363.6,999.2" fill="url(#tube)"/>
<polygon points="445.6,972.7 445.6,973.5 445.5,974.3 445.4,975.2 445.2,976.0 445.0,976.8 444.7,977.6 444.4,978.4 444.0,979.2 443.6,980.0 443.1,980.7 442.6,981.5 442.1,982.3 441.5,983.0 440.8,983.7 440.1,984.5 439.4,985.2 438.6,985.8 437.8,986.5 436.9,987.2 436.0,987.8 435.1,988.4 434.1,989.0 433.1,989.6 432.0,990.2 431.0,990.7 429.8,991.2 428.7,991.7 427.5,992.2 426.3,992.6 425.1,993.1 423.8,993.4 422.6,993.8 421.3,994.2 420.0,994.5 418.6,994.8 417.3,995.0 415.9,995.3 414.5,995.5 413.1,995.7 411.7,995.8 410.3,996.0 408.9,996.1 407.5,996.1 406.0,996.2 404.6,996.2 403.2,996.2 401.7,996.1 400.3,996.1 398.9,996.0 397.5,995.8 396.1,995.7 394.7,995.5 393.3,995.3 391.9,995.0 390.6,994.8 389.2,994.5 387.9,994.2 386.6,993.8 385.4,993.4 384.1,993.1 382.9,992.6 381.7,992.2 380.5,991.7 379.4,991.2 378.2,990.7 377.2,990.2 376.1,989.6 375.1,989.0 374.1,988.4 373.2,987.8 372.3,987.2 371.4,986.5 370.6,985.8 369.8,985.2 369.1,984.5 368.4,983.7 367.7,983.0 367.1,982.3 366.6,981.5 366.1,980.7 365.6,980.0 365.2,979.2 364.8,978.4 364.5,977.6 364.2,976.8 364.0,976.0 363.8,975.2 363.7,974.3 363.6,973.5 363.6,972.7 363.6,999.2 363.6,1000.0 363.7,1000.8 363.8,1001.7 364.0,1002.5 364.2,1003.3 364.5,1004.1 364.8,1004.9 365.2,1005.7 365.6,1006.5 366.1,1007.2 366.6,1008.0 367.1,1008.8 367.7,1009.5 368.4,1010.2 369.1,1011.0 369.8,1011.7 370.6,1012.3 371.4,1013.0 372.3,1013.7 373.2,1014.3 374.1,1014.9 375.1,1015.5 376.1,1016.1 377.2,1016.7 378.2,1017.2 379.4,1017.7 380.5,1018.2 381.7,1018.7 382.9,1019.1 384.1,1019.6 385.4,1019.9 386.6,1020.3 387.9,1020.7 389.2,1021.0 390.6,1021.3 391.9,1021.5 393.3,1021.8 394.7,1022.0 396.1,1022.2 397.5,1022.3 398.9,1022.5 400.3,1022.6 401.7,1022.6 403.2,1022.7 404.6,1022.7 406.0,1022.7 407.5,1022.6 408.9,1022.6 410.3,1022.5 411.7,1022.3 413.1,1022.2 414.5,1022.0 415.9,1021.8 417.3,1021.5 418.6,1021.3 420.0,1021.0 421.3,1020.7 422.6,1020.3 423.8,1019.9 425.1,1019.6 426.3,1019.1 427.5,1018.7 428.7,1018.2 429.8,1017.7 431.0,1017.2 432.0,1016.7 433.1,1016.1 434.1,1015.5 435.1,1014.9 436.0,1014.3 436.9,1013.7 437.8,1013.0 438.6,1012.3 439.4,1011.7 440.1,1011.0 440.8,1010.2 441.5,1009.5 442.1,1008.8 442.6,1008.0 443.1,1007.2 443.6,1006.5 444.0,1005.7 444.4,1004.9 444.7,1004.1 445.0,1003.3 445.2,1002.5 445.4,1001.7 445.5,1000.8 445.6,1000.0 445.6,999.2" fill="#ffd4a6" fill-opacity="0.7"/>
<ellipse cx="404.6" cy="972.7" rx="41.0" ry="23.5" fill="#e2ccb6" fill-opacity="0.9"/>
<polygon points="402.0,895.0 445.6,895.0 445.6,972.7 404.6,972.7 402.0,996.2" fill="url(#col)"/>
<rect x="402.0" y="895" width="6.5" height="101.2" fill="url(#hl)"/>
<rect x="441.6" y="895" width="3.5" height="77.7" fill="url(#hl)" opacity="0.6"/>
<polygon points="445.6,972.7 445.6,973.5 445.5,974.4 445.4,975.2 445.2,976.0 445.0,976.9 444.7,977.7 444.3,978.5 444.0,979.3 443.5,980.1 443.0,980.9 442.5,981.6 441.9,982.4 441.3,983.2 440.6,983.9 439.9,984.6 439.2,985.3 438.4,986.0 437.5,986.7 436.6,987.4 435.7,988.0 434.7,988.6 433.7,989.2 432.7,989.8 431.6,990.4 430.5,990.9 429.3,991.4 428.2,991.9 426.9,992.4 425.7,992.8 424.4,993.3 423.2,993.7 421.9,994.0 420.5,994.4 419.2,994.7 417.8,994.9 416.4,995.2 415.0,995.4 413.6,995.6 412.2,995.8 410.7,995.9 409.3,996.0 407.8,996.1 406.4,996.2 404.9,996.2 403.5,996.2 402.0,996.2 402.0,1022.7 403.5,1022.7 404.9,1022.7 406.4,1022.7 407.8,1022.6 409.3,1022.5 410.7,1022.4 412.2,1022.3 413.6,1022.1 415.0,1021.9 416.4,1021.7 417.8,1021.4 419.2,1021.2 420.5,1020.9 421.9,1020.5 423.2,1020.2 424.4,1019.8 425.7,1019.3 426.9,1018.9 428.2,1018.4 429.3,1017.9 430.5,1017.4 431.6,1016.9 432.7,1016.3 433.7,1015.7 434.7,1015.1 435.7,1014.5 436.6,1013.9 437.5,1013.2 438.4,1012.5 439.2,1011.8 439.9,1011.1 440.6,1010.4 441.3,1009.7 441.9,1008.9 442.5,1008.1 443.0,1007.4 443.5,1006.6 444.0,1005.8 444.3,1005.0 444.7,1004.2 445.0,1003.4 445.2,1002.5 445.4,1001.7 445.5,1000.9 445.6,1000.0 445.6,999.2" fill="#fa4c12"/>
<polygon points="404.6,972.7 445.6,972.7 445.6,973.5 445.5,974.4 445.4,975.2 445.2,976.0 445.0,976.9 444.7,977.7 444.3,978.5 444.0,979.3 443.5,980.1 443.0,980.9 442.5,981.6 441.9,982.4 441.3,983.2 440.6,983.9 439.9,984.6 439.2,985.3 438.4,986.0 437.5,986.7 436.6,987.4 435.7,988.0 434.7,988.6 433.7,989.2 432.7,989.8 431.6,990.4 430.5,990.9 429.3,991.4 428.2,991.9 426.9,992.4 425.7,992.8 424.4,993.3 423.2,993.7 421.9,994.0 420.5,994.4 419.2,994.7 417.8,994.9 416.4,995.2 415.0,995.4 413.6,995.6 412.2,995.8 410.7,995.9 409.3,996.0 407.8,996.1 406.4,996.2 404.9,996.2 403.5,996.2 402.0,996.2" fill="#e2714f"/>
<polygon points="466.8,895.0 548.8,895.0 548.8,999.2 548.8,1000.0 548.7,1000.8 548.6,1001.7 548.4,1002.5 548.2,1003.3 547.9,1004.1 547.6,1004.9 547.2,1005.7 546.8,1006.5 546.3,1007.2 545.8,1008.0 545.3,1008.8 544.7,1009.5 544.0,1010.2 543.3,1011.0 542.6,1011.7 541.8,1012.3 541.0,1013.0 540.1,1013.7 539.2,1014.3 538.3,1014.9 537.3,1015.5 536.3,1016.1 535.2,1016.7 534.2,1017.2 533.0,1017.7 531.9,1018.2 530.7,1018.7 529.5,1019.1 528.3,1019.6 527.0,1019.9 525.8,1020.3 524.5,1020.7 523.2,1021.0 521.8,1021.3 520.5,1021.5 519.1,1021.8 517.7,1022.0 516.3,1022.2 514.9,1022.3 513.5,1022.5 512.1,1022.6 510.7,1022.6 509.2,1022.7 507.8,1022.7 506.4,1022.7 504.9,1022.6 503.5,1022.6 502.1,1022.5 500.7,1022.3 499.3,1022.2 497.9,1022.0 496.5,1021.8 495.1,1021.5 493.8,1021.3 492.4,1021.0 491.1,1020.7 489.8,1020.3 488.6,1019.9 487.3,1019.6 486.1,1019.1 484.9,1018.7 483.7,1018.2 482.6,1017.7 481.4,1017.2 480.4,1016.7 479.3,1016.1 478.3,1015.5 477.3,1014.9 476.4,1014.3 475.5,1013.7 474.6,1013.0 473.8,1012.3 473.0,1011.7 472.3,1011.0 471.6,1010.2 470.9,1009.5 470.3,1008.8 469.8,1008.0 469.3,1007.2 468.8,1006.5 468.4,1005.7 468.0,1004.9 467.7,1004.1 467.4,1003.3 467.2,1002.5 467.0,1001.7 466.9,1000.8 466.8,1000.0 466.8,999.2" fill="url(#tube)"/>
<polygon points="548.8,972.7 548.8,973.5 548.7,974.3 548.6,975.2 548.4,976.0 548.2,976.8 547.9,977.6 547.6,978.4 547.2,979.2 546.8,980.0 546.3,980.7 545.8,981.5 545.3,982.3 544.7,983.0 544.0,983.7 543.3,984.5 542.6,985.2 541.8,985.8 541.0,986.5 540.1,987.2 539.2,987.8 538.3,988.4 537.3,989.0 536.3,989.6 535.2,990.2 534.2,990.7 533.0,991.2 531.9,991.7 530.7,992.2 529.5,992.6 528.3,993.1 527.0,993.4 525.8,993.8 524.5,994.2 523.2,994.5 521.8,994.8 520.5,995.0 519.1,995.3 517.7,995.5 516.3,995.7 514.9,995.8 513.5,996.0 512.1,996.1 510.7,996.1 509.2,996.2 507.8,996.2 506.4,996.2 504.9,996.1 503.5,996.1 502.1,996.0 500.7,995.8 499.3,995.7 497.9,995.5 496.5,995.3 495.1,995.0 493.8,994.8 492.4,994.5 491.1,994.2 489.8,993.8 488.6,993.4 487.3,993.1 486.1,992.6 484.9,992.2 483.7,991.7 482.6,991.2 481.4,990.7 480.4,990.2 479.3,989.6 478.3,989.0 477.3,988.4 476.4,987.8 475.5,987.2 474.6,986.5 473.8,985.8 473.0,985.2 472.3,984.5 471.6,983.7 470.9,983.0 470.3,982.3 469.8,981.5 469.3,980.7 468.8,980.0 468.4,979.2 468.0,978.4 467.7,977.6 467.4,976.8 467.2,976.0 467.0,975.2 466.9,974.3 466.8,973.5 466.8,972.7 466.8,999.2 466.8,1000.0 466.9,1000.8 467.0,1001.7 467.2,1002.5 467.4,1003.3 467.7,1004.1 468.0,1004.9 468.4,1005.7 468.8,1006.5 469.3,1007.2 469.8,1008.0 470.3,1008.8 470.9,1009.5 471.6,1010.2 472.3,1011.0 473.0,1011.7 473.8,1012.3 474.6,1013.0 475.5,1013.7 476.4,1014.3 477.3,1014.9 478.3,1015.5 479.3,1016.1 480.4,1016.7 481.4,1017.2 482.6,1017.7 483.7,1018.2 484.9,1018.7 486.1,1019.1 487.3,1019.6 488.6,1019.9 489.8,1020.3 491.1,1020.7 492.4,1021.0 493.8,1021.3 495.1,1021.5 496.5,1021.8 497.9,1022.0 499.3,1022.2 500.7,1022.3 502.1,1022.5 503.5,1022.6 504.9,1022.6 506.4,1022.7 507.8,1022.7 509.2,1022.7 510.7,1022.6 512.1,1022.6 513.5,1022.5 514.9,1022.3 516.3,1022.2 517.7,1022.0 519.1,1021.8 520.5,1021.5 521.8,1021.3 523.2,1021.0 524.5,1020.7 525.8,1020.3 527.0,1019.9 528.3,1019.6 529.5,1019.1 530.7,1018.7 531.9,1018.2 533.0,1017.7 534.2,1017.2 535.2,1016.7 536.3,1016.1 537.3,1015.5 538.3,1014.9 539.2,1014.3 540.1,1013.7 541.0,1013.0 541.8,1012.3 542.6,1011.7 543.3,1011.0 544.0,1010.2 544.7,1009.5 545.3,1008.8 545.8,1008.0 546.3,1007.2 546.8,1006.5 547.2,1005.7 547.6,1004.9 547.9,1004.1 548.2,1003.3 548.4,1002.5 548.6,1001.7 548.7,1000.8 548.8,1000.0 548.8,999.2" fill="#ffd4a6" fill-opacity="0.7"/>
<ellipse cx="507.8" cy="972.7" rx="41.0" ry="23.5" fill="#e2ccb6" fill-opacity="0.9"/>
<polygon points="507.8,895.0 548.8,895.0 548.8,972.7 507.8,972.7 507.8,996.2" fill="url(#col)"/>
<rect x="507.8" y="895" width="6.5" height="101.2" fill="url(#hl)"/>
<rect x="544.8" y="895" width="3.5" height="77.7" fill="url(#hl)" opacity="0.6"/>
<polygon points="548.8,972.7 548.8,973.5 548.7,974.3 548.6,975.2 548.4,976.0 548.2,976.8 547.9,977.6 547.6,978.4 547.2,979.2 546.8,980.0 546.3,980.8 545.8,981.5 545.2,982.3 544.6,983.0 544.0,983.8 543.3,984.5 542.5,985.2 541.7,985.9 540.9,986.6 540.0,987.2 539.1,987.9 538.2,988.5 537.2,989.1 536.2,989.7 535.1,990.2 534.0,990.8 532.9,991.3 531.8,991.8 530.6,992.2 529.4,992.7 528.1,993.1 526.9,993.5 525.6,993.9 524.3,994.2 522.9,994.5 521.6,994.8 520.2,995.1 518.9,995.3 517.5,995.5 516.1,995.7 514.7,995.9 513.2,996.0 511.8,996.1 510.4,996.2 510.4,1022.7 511.8,1022.6 513.2,1022.5 514.7,1022.4 516.1,1022.2 517.5,1022.0 518.9,1021.8 520.2,1021.6 521.6,1021.3 522.9,1021.0 524.3,1020.7 525.6,1020.4 526.9,1020.0 528.1,1019.6 529.4,1019.2 530.6,1018.7 531.8,1018.3 532.9,1017.8 534.0,1017.3 535.1,1016.7 536.2,1016.2 537.2,1015.6 538.2,1015.0 539.1,1014.4 540.0,1013.7 540.9,1013.1 541.7,1012.4 542.5,1011.7 543.3,1011.0 544.0,1010.3 544.6,1009.5 545.2,1008.8 545.8,1008.0 546.3,1007.3 546.8,1006.5 547.2,1005.7 547.6,1004.9 547.9,1004.1 548.2,1003.3 548.4,1002.5 548.6,1001.7 548.7,1000.8 548.8,1000.0 548.8,999.2" fill="#fa4c12"/>
<polygon points="507.8,972.7 548.8,972.7 548.8,973.5 548.7,974.3 548.6,975.2 548.4,976.0 548.2,976.8 547.9,977.6 547.6,978.4 547.2,979.2 546.8,980.0 546.3,980.8 545.8,981.5 545.2,982.3 544.6,983.0 544.0,983.8 543.3,984.5 542.5,985.2 541.7,985.9 540.9,986.6 540.0,987.2 539.1,987.9 538.2,988.5 537.2,989.1 536.2,989.7 535.1,990.2 534.0,990.8 532.9,991.3 531.8,991.8 530.6,992.2 529.4,992.7 528.1,993.1 526.9,993.5 525.6,993.9 524.3,994.2 522.9,994.5 521.6,994.8 520.2,995.1 518.9,995.3 517.5,995.5 516.1,995.7 514.7,995.9 513.2,996.0 511.8,996.1 510.4,996.2" fill="#e2714f"/>
<polygon points="507.8,972.7 510.4,996.2 507.8,996.2" fill="#e99a7e" fill-opacity="0.9"/>
<polygon points="570.0,895.0 652.0,895.0 652.0,999.2 652.0,1000.0 651.9,1000.8 651.8,1001.7 651.6,1002.5 651.4,1003.3 651.1,1004.1 650.8,1004.9 650.4,1005.7 650.0,1006.5 649.5,1007.2 649.0,1008.0 648.5,1008.8 647.9,1009.5 647.2,1010.2 646.5,1011.0 645.8,1011.7 645.0,1012.3 644.2,1013.0 643.3,1013.7 642.4,1014.3 641.5,1014.9 640.5,1015.5 639.5,1016.1 638.4,1016.7 637.4,1017.2 636.2,1017.7 635.1,1018.2 633.9,1018.7 632.7,1019.1 631.5,1019.6 630.2,1019.9 629.0,1020.3 627.7,1020.7 626.4,1021.0 625.0,1021.3 623.7,1021.5 622.3,1021.8 620.9,1022.0 619.5,1022.2 618.1,1022.3 616.7,1022.5 615.3,1022.6 613.9,1022.6 612.4,1022.7 611.0,1022.7 609.6,1022.7 608.1,1022.6 606.7,1022.6 605.3,1022.5 603.9,1022.3 602.5,1022.2 601.1,1022.0 599.7,1021.8 598.3,1021.5 597.0,1021.3 595.6,1021.0 594.3,1020.7 593.0,1020.3 591.8,1019.9 590.5,1019.6 589.3,1019.1 588.1,1018.7 586.9,1018.2 585.8,1017.7 584.6,1017.2 583.6,1016.7 582.5,1016.1 581.5,1015.5 580.5,1014.9 579.6,1014.3 578.7,1013.7 577.8,1013.0 577.0,1012.3 576.2,1011.7 575.5,1011.0 574.8,1010.2 574.1,1009.5 573.5,1008.8 573.0,1008.0 572.5,1007.2 572.0,1006.5 571.6,1005.7 571.2,1004.9 570.9,1004.1 570.6,1003.3 570.4,1002.5 570.2,1001.7 570.1,1000.8 570.0,1000.0 570.0,999.2" fill="url(#tube)"/>
<polygon points="652.0,972.7 652.0,973.5 651.9,974.3 651.8,975.2 651.6,976.0 651.4,976.8 651.1,977.6 650.8,978.4 650.4,979.2 650.0,980.0 649.5,980.7 649.0,981.5 648.5,982.3 647.9,983.0 647.2,983.7 646.5,984.5 645.8,985.2 645.0,985.8 644.2,986.5 643.3,987.2 642.4,987.8 641.5,988.4 640.5,989.0 639.5,989.6 638.4,990.2 637.4,990.7 636.2,991.2 635.1,991.7 633.9,992.2 632.7,992.6 631.5,993.1 630.2,993.4 629.0,993.8 627.7,994.2 626.4,994.5 625.0,994.8 623.7,995.0 622.3,995.3 620.9,995.5 619.5,995.7 618.1,995.8 616.7,996.0 615.3,996.1 613.9,996.1 612.4,996.2 611.0,996.2 609.6,996.2 608.1,996.1 606.7,996.1 605.3,996.0 603.9,995.8 602.5,995.7 601.1,995.5 599.7,995.3 598.3,995.0 597.0,994.8 595.6,994.5 594.3,994.2 593.0,993.8 591.8,993.4 590.5,993.1 589.3,992.6 588.1,992.2 586.9,991.7 585.8,991.2 584.6,990.7 583.6,990.2 582.5,989.6 581.5,989.0 580.5,988.4 579.6,987.8 578.7,987.2 577.8,986.5 577.0,985.8 576.2,985.2 575.5,984.5 574.8,983.7 574.1,983.0 573.5,982.3 573.0,981.5 572.5,980.7 572.0,980.0 571.6,979.2 571.2,978.4 570.9,977.6 570.6,976.8 570.4,976.0 570.2,975.2 570.1,974.3 570.0,973.5 570.0,972.7 570.0,999.2 570.0,1000.0 570.1,1000.8 570.2,1001.7 570.4,1002.5 570.6,1003.3 570.9,1004.1 571.2,1004.9 571.6,1005.7 572.0,1006.5 572.5,1007.2 573.0,1008.0 573.5,1008.8 574.1,1009.5 574.8,1010.2 575.5,1011.0 576.2,1011.7 577.0,1012.3 577.8,1013.0 578.7,1013.7 579.6,1014.3 580.5,1014.9 581.5,1015.5 582.5,1016.1 583.6,1016.7 584.6,1017.2 585.8,1017.7 586.9,1018.2 588.1,1018.7 589.3,1019.1 590.5,1019.6 591.8,1019.9 593.0,1020.3 594.3,1020.7 595.6,1021.0 597.0,1021.3 598.3,1021.5 599.7,1021.8 601.1,1022.0 602.5,1022.2 603.9,1022.3 605.3,1022.5 606.7,1022.6 608.1,1022.6 609.6,1022.7 611.0,1022.7 612.4,1022.7 613.9,1022.6 615.3,1022.6 616.7,1022.5 618.1,1022.3 619.5,1022.2 620.9,1022.0 622.3,1021.8 623.7,1021.5 625.0,1021.3 626.4,1021.0 627.7,1020.7 629.0,1020.3 630.2,1019.9 631.5,1019.6 632.7,1019.1 633.9,1018.7 635.1,1018.2 636.2,1017.7 637.4,1017.2 638.4,1016.7 639.5,1016.1 640.5,1015.5 641.5,1014.9 642.4,1014.3 643.3,1013.7 644.2,1013.0 645.0,1012.3 645.8,1011.7 646.5,1011.0 647.2,1010.2 647.9,1009.5 648.5,1008.8 649.0,1008.0 649.5,1007.2 650.0,1006.5 650.4,1005.7 650.8,1004.9 651.1,1004.1 651.4,1003.3 651.6,1002.5 651.8,1001.7 651.9,1000.8 652.0,1000.0 652.0,999.2" fill="#ffd4a6" fill-opacity="0.7"/>
<ellipse cx="611.0" cy="972.7" rx="41.0" ry="23.5" fill="#e2ccb6" fill-opacity="0.9"/>
<polygon points="611.0,895.0 652.0,895.0 652.0,972.7 611.0,972.7 611.0,996.2" fill="url(#col)"/>
<rect x="611.0" y="895" width="6.5" height="101.2" fill="url(#hl)"/>
<rect x="648.0" y="895" width="3.5" height="77.7" fill="url(#hl)" opacity="0.6"/>
<polygon points="652.0,972.7 652.0,973.5 651.9,974.4 651.8,975.2 651.6,976.0 651.3,976.9 651.1,977.7 650.7,978.5 650.3,979.3 649.9,980.1 649.4,980.9 648.9,981.7 648.3,982.5 647.7,983.2 647.0,984.0 646.3,984.7 645.5,985.4 644.7,986.1 643.8,986.8 642.9,987.4 642.0,988.1 641.0,988.7 640.0,989.3 639.0,989.9 637.9,990.4 636.8,991.0 635.6,991.5 634.4,992.0 633.2,992.5 632.0,992.9 630.7,993.3 629.4,993.7 628.1,994.1 626.7,994.4 625.4,994.7 624.0,995.0 622.6,995.2 621.2,995.5 621.2,1022.0 622.6,1021.7 624.0,1021.5 625.4,1021.2 626.7,1020.9 628.1,1020.6 629.4,1020.2 630.7,1019.8 632.0,1019.4 633.2,1019.0 634.4,1018.5 635.6,1018.0 636.8,1017.5 637.9,1016.9 639.0,1016.4 640.0,1015.8 641.0,1015.2 642.0,1014.6 642.9,1013.9 643.8,1013.3 644.7,1012.6 645.5,1011.9 646.3,1011.2 647.0,1010.5 647.7,1009.7 648.3,1009.0 648.9,1008.2 649.4,1007.4 649.9,1006.6 650.3,1005.8 650.7,1005.0 651.1,1004.2 651.3,1003.4 651.6,1002.5 651.8,1001.7 651.9,1000.9 652.0,1000.0 652.0,999.2" fill="#fa4c12"/>
<polygon points="611.0,972.7 652.0,972.7 652.0,973.5 651.9,974.4 651.8,975.2 651.6,976.0 651.3,976.9 651.1,977.7 650.7,978.5 650.3,979.3 649.9,980.1 649.4,980.9 648.9,981.7 648.3,982.5 647.7,983.2 647.0,984.0 646.3,984.7 645.5,985.4 644.7,986.1 643.8,986.8 642.9,987.4 642.0,988.1 641.0,988.7 640.0,989.3 639.0,989.9 637.9,990.4 636.8,991.0 635.6,991.5 634.4,992.0 633.2,992.5 632.0,992.9 630.7,993.3 629.4,993.7 628.1,994.1 626.7,994.4 625.4,994.7 624.0,995.0 622.6,995.2 621.2,995.5" fill="#e2714f"/>
<polygon points="611.0,972.7 621.2,995.5 619.8,995.7 618.3,995.8 616.9,996.0 615.4,996.1 613.9,996.1 612.5,996.2 611.0,996.2" fill="#e99a7e" fill-opacity="0.9"/>
<polygon points="673.2,895.0 755.2,895.0 755.2,999.2 755.2,1000.0 755.1,1000.8 755.0,1001.7 754.8,1002.5 754.6,1003.3 754.3,1004.1 754.0,1004.9 753.6,1005.7 753.2,1006.5 752.7,1007.2 752.2,1008.0 751.7,1008.8 751.1,1009.5 750.4,1010.2 749.7,1011.0 749.0,1011.7 748.2,1012.3 747.4,1013.0 746.5,1013.7 745.6,1014.3 744.7,1014.9 743.7,1015.5 742.7,1016.1 741.6,1016.7 740.6,1017.2 739.4,1017.7 738.3,1018.2 737.1,1018.7 735.9,1019.1 734.7,1019.6 733.4,1019.9 732.2,1020.3 730.9,1020.7 729.6,1021.0 728.2,1021.3 726.9,1021.5 725.5,1021.8 724.1,1022.0 722.7,1022.2 721.3,1022.3 719.9,1022.5 718.5,1022.6 717.1,1022.6 715.6,1022.7 714.2,1022.7 712.8,1022.7 711.3,1022.6 709.9,1022.6 708.5,1022.5 707.1,1022.3 705.7,1022.2 704.3,1022.0 702.9,1021.8 701.5,1021.5 700.2,1021.3 698.8,1021.0 697.5,1020.7 696.2,1020.3 695.0,1019.9 693.7,1019.6 692.5,1019.1 691.3,1018.7 690.1,1018.2 689.0,1017.7 687.8,1017.2 686.8,1016.7 685.7,1016.1 684.7,1015.5 683.7,1014.9 682.8,1014.3 681.9,1013.7 681.0,1013.0 680.2,1012.3 679.4,1011.7 678.7,1011.0 678.0,1010.2 677.3,1009.5 676.7,1008.8 676.2,1008.0 675.7,1007.2 675.2,1006.5 674.8,1005.7 674.4,1004.9 674.1,1004.1 673.8,1003.3 673.6,1002.5 673.4,1001.7 673.3,1000.8 673.2,1000.0 673.2,999.2" fill="url(#tube)"/>
<polygon points="755.2,972.7 755.2,973.5 755.1,974.3 755.0,975.2 754.8,976.0 754.6,976.8 754.3,977.6 754.0,978.4 753.6,979.2 753.2,980.0 752.7,980.7 752.2,981.5 751.7,982.3 751.1,983.0 750.4,983.7 749.7,984.5 749.0,985.2 748.2,985.8 747.4,986.5 746.5,987.2 745.6,987.8 744.7,988.4 743.7,989.0 742.7,989.6 741.6,990.2 740.6,990.7 739.4,991.2 738.3,991.7 737.1,992.2 735.9,992.6 734.7,993.1 733.4,993.4 732.2,993.8 730.9,994.2 729.6,994.5 728.2,994.8 726.9,995.0 725.5,995.3 724.1,995.5 722.7,995.7 721.3,995.8 719.9,996.0 718.5,996.1 717.1,996.1 715.6,996.2 714.2,996.2 712.8,996.2 711.3,996.1 709.9,996.1 708.5,996.0 707.1,995.8 705.7,995.7 704.3,995.5 702.9,995.3 701.5,995.0 700.2,994.8 698.8,994.5 697.5,994.2 696.2,993.8 695.0,993.4 693.7,993.1 692.5,992.6 691.3,992.2 690.1,991.7 689.0,991.2 687.8,990.7 686.8,990.2 685.7,989.6 684.7,989.0 683.7,988.4 682.8,987.8 681.9,987.2 681.0,986.5 680.2,985.8 679.4,985.2 678.7,984.5 678.0,983.7 677.3,983.0 676.7,982.3 676.2,981.5 675.7,980.7 675.2,980.0 674.8,979.2 674.4,978.4 674.1,977.6 673.8,976.8 673.6,976.0 673.4,975.2 673.3,974.3 673.2,973.5 673.2,972.7 673.2,999.2 673.2,1000.0 673.3,1000.8 673.4,1001.7 673.6,1002.5 673.8,1003.3 674.1,1004.1 674.4,1004.9 674.8,1005.7 675.2,1006.5 675.7,1007.2 676.2,1008.0 676.7,1008.8 677.3,1009.5 678.0,1010.2 678.7,1011.0 679.4,1011.7 680.2,1012.3 681.0,1013.0 681.9,1013.7 682.8,1014.3 683.7,1014.9 684.7,1015.5 685.7,1016.1 686.8,1016.7 687.8,1017.2 689.0,1017.7 690.1,1018.2 691.3,1018.7 692.5,1019.1 693.7,1019.6 695.0,1019.9 696.2,1020.3 697.5,1020.7 698.8,1021.0 700.2,1021.3 701.5,1021.5 702.9,1021.8 704.3,1022.0 705.7,1022.2 707.1,1022.3 708.5,1022.5 709.9,1022.6 711.3,1022.6 712.8,1022.7 714.2,1022.7 715.6,1022.7 717.1,1022.6 718.5,1022.6 719.9,1022.5 721.3,1022.3 722.7,1022.2 724.1,1022.0 725.5,1021.8 726.9,1021.5 728.2,1021.3 729.6,1021.0 730.9,1020.7 732.2,1020.3 733.4,1019.9 734.7,1019.6 735.9,1019.1 737.1,1018.7 738.3,1018.2 739.4,1017.7 740.6,1017.2 741.6,1016.7 742.7,1016.1 743.7,1015.5 744.7,1014.9 745.6,1014.3 746.5,1013.7 747.4,1013.0 748.2,1012.3 749.0,1011.7 749.7,1011.0 750.4,1010.2 751.1,1009.5 751.7,1008.8 752.2,1008.0 752.7,1007.2 753.2,1006.5 753.6,1005.7 754.0,1004.9 754.3,1004.1 754.6,1003.3 754.8,1002.5 755.0,1001.7 755.1,1000.8 755.2,1000.0 755.2,999.2" fill="#ffd4a6" fill-opacity="0.7"/>
<ellipse cx="714.2" cy="972.7" rx="41.0" ry="23.5" fill="#e2ccb6" fill-opacity="0.9"/>
<polygon points="714.2,895.0 755.2,895.0 755.2,972.7 714.2,972.7 714.2,996.2" fill="url(#col)"/>
<rect x="714.2" y="895" width="6.5" height="101.2" fill="url(#hl)"/>
<rect x="751.2" y="895" width="3.5" height="77.7" fill="url(#hl)" opacity="0.6"/>
<polygon points="755.2,972.7 755.2,973.5 755.1,974.3 755.0,975.2 754.8,976.0 754.6,976.8 754.3,977.6 754.0,978.4 753.6,979.2 753.2,980.0 752.7,980.7 752.2,981.5 751.7,982.3 751.1,983.0 750.4,983.7 749.7,984.5 749.0,985.2 748.2,985.8 747.4,986.5 746.5,987.2 745.6,987.8 744.7,988.4 743.7,989.0 742.7,989.6 741.6,990.2 740.6,990.7 739.4,991.2 738.3,991.7 737.1,992.2 735.9,992.6 734.7,993.1 733.4,993.4 732.2,993.8 730.9,994.2 729.6,994.5 728.2,994.8 726.9,995.0 726.9,1021.5 728.2,1021.3 729.6,1021.0 730.9,1020.7 732.2,1020.3 733.4,1019.9 734.7,1019.6 735.9,1019.1 737.1,1018.7 738.3,1018.2 739.4,1017.7 740.6,1017.2 741.6,1016.7 742.7,1016.1 743.7,1015.5 744.7,1014.9 745.6,1014.3 746.5,1013.7 747.4,1013.0 748.2,1012.3 749.0,1011.7 749.7,1011.0 750.4,1010.2 751.1,1009.5 751.7,1008.8 752.2,1008.0 752.7,1007.2 753.2,1006.5 753.6,1005.7 754.0,1004.9 754.3,1004.1 754.6,1003.3 754.8,1002.5 755.0,1001.7 755.1,1000.8 755.2,1000.0 755.2,999.2" fill="#fa4c12"/>
<polygon points="714.2,972.7 755.2,972.7 755.2,973.5 755.1,974.3 755.0,975.2 754.8,976.0 754.6,976.8 754.3,977.6 754.0,978.4 753.6,979.2 753.2,980.0 752.7,980.7 752.2,981.5 751.7,982.3 751.1,983.0 750.4,983.7 749.7,984.5 749.0,985.2 748.2,985.8 747.4,986.5 746.5,987.2 745.6,987.8 744.7,988.4 743.7,989.0 742.7,989.6 741.6,990.2 740.6,990.7 739.4,991.2 738.3,991.7 737.1,992.2 735.9,992.6 734.7,993.1 733.4,993.4 732.2,993.8 730.9,994.2 729.6,994.5 728.2,994.8 726.9,995.0" fill="#e2714f"/>
<polygon points="714.2,972.7 726.9,995.0 725.5,995.3 724.1,995.5 722.7,995.7 721.3,995.8 719.9,996.0 718.5,996.1 717.1,996.1 715.6,996.2 714.2,996.2" fill="#e99a7e" fill-opacity="0.9"/>
<polygon points="776.4,895.0 858.4,895.0 858.4,999.2 858.4,1000.0 858.3,1000.8 858.2,1001.7 858.0,1002.5 857.8,1003.3 857.5,1004.1 857.2,1004.9 856.8,1005.7 856.4,1006.5 855.9,1007.2 855.4,1008.0 854.9,1008.8 854.3,1009.5 853.6,1010.2 852.9,1011.0 852.2,1011.7 851.4,1012.3 850.6,1013.0 849.7,1013.7 848.8,1014.3 847.9,1014.9 846.9,1015.5 845.9,1016.1 844.8,1016.7 843.8,1017.2 842.6,1017.7 841.5,1018.2 840.3,1018.7 839.1,1019.1 837.9,1019.6 836.6,1019.9 835.4,1020.3 834.1,1020.7 832.8,1021.0 831.4,1021.3 830.1,1021.5 828.7,1021.8 827.3,1022.0 825.9,1022.2 824.5,1022.3 823.1,1022.5 821.7,1022.6 820.3,1022.6 818.8,1022.7 817.4,1022.7 816.0,1022.7 814.5,1022.6 813.1,1022.6 811.7,1022.5 810.3,1022.3 808.9,1022.2 807.5,1022.0 806.1,1021.8 804.7,1021.5 803.4,1021.3 802.0,1021.0 800.7,1020.7 799.4,1020.3 798.2,1019.9 796.9,1019.6 795.7,1019.1 794.5,1018.7 793.3,1018.2 792.2,1017.7 791.0,1017.2 790.0,1016.7 788.9,1016.1 787.9,1015.5 786.9,1014.9 786.0,1014.3 785.1,1013.7 784.2,1013.0 783.4,1012.3 782.6,1011.7 781.9,1011.0 781.2,1010.2 780.5,1009.5 779.9,1008.8 779.4,1008.0 778.9,1007.2 778.4,1006.5 778.0,1005.7 777.6,1004.9 777.3,1004.1 777.0,1003.3 776.8,1002.5 776.6,1001.7 776.5,1000.8 776.4,1000.0 776.4,999.2" fill="url(#tube)"/>
<polygon points="858.4,972.7 858.4,973.5 858.3,974.3 858.2,975.2 858.0,976.0 857.8,976.8 857.5,977.6 857.2,978.4 856.8,979.2 856.4,980.0 855.9,980.7 855.4,981.5 854.9,982.3 854.3,983.0 853.6,983.7 852.9,984.5 852.2,985.2 851.4,985.8 850.6,986.5 849.7,987.2 848.8,987.8 847.9,988.4 846.9,989.0 845.9,989.6 844.8,990.2 843.8,990.7 842.6,991.2 841.5,991.7 840.3,992.2 839.1,992.6 837.9,993.1 836.6,993.4 835.4,993.8 834.1,994.2 832.8,994.5 831.4,994.8 830.1,995.0 828.7,995.3 827.3,995.5 825.9,995.7 824.5,995.8 823.1,996.0 821.7,996.1 820.3,996.1 818.8,996.2 817.4,996.2 816.0,996.2 814.5,996.1 813.1,996.1 811.7,996.0 810.3,995.8 808.9,995.7 807.5,995.5 806.1,995.3 804.7,995.0 803.4,994.8 802.0,994.5 800.7,994.2 799.4,993.8 798.2,993.4 796.9,993.1 795.7,992.6 794.5,992.2 793.3,991.7 792.2,991.2 791.0,990.7 790.0,990.2 788.9,989.6 787.9,989.0 786.9,988.4 786.0,987.8 785.1,987.2 784.2,986.5 783.4,985.8 782.6,985.2 781.9,984.5 781.2,983.7 780.5,983.0 779.9,982.3 779.4,981.5 778.9,980.7 778.4,980.0 778.0,979.2 777.6,978.4 777.3,977.6 777.0,976.8 776.8,976.0 776.6,975.2 776.5,974.3 776.4,973.5 776.4,972.7 776.4,999.2 776.4,1000.0 776.5,1000.8 776.6,1001.7 776.8,1002.5 777.0,1003.3 777.3,1004.1 777.6,1004.9 778.0,1005.7 778.4,1006.5 778.9,1007.2 779.4,1008.0 779.9,1008.8 780.5,1009.5 781.2,1010.2 781.9,1011.0 782.6,1011.7 783.4,1012.3 784.2,1013.0 785.1,1013.7 786.0,1014.3 786.9,1014.9 787.9,1015.5 788.9,1016.1 790.0,1016.7 791.0,1017.2 792.2,1017.7 793.3,1018.2 794.5,1018.7 795.7,1019.1 796.9,1019.6 798.2,1019.9 799.4,1020.3 800.7,1020.7 802.0,1021.0 803.4,1021.3 804.7,1021.5 806.1,1021.8 807.5,1022.0 808.9,1022.2 810.3,1022.3 811.7,1022.5 813.1,1022.6 814.5,1022.6 816.0,1022.7 817.4,1022.7 818.8,1022.7 820.3,1022.6 821.7,1022.6 823.1,1022.5 824.5,1022.3 825.9,1022.2 827.3,1022.0 828.7,1021.8 830.1,1021.5 831.4,1021.3 832.8,1021.0 834.1,1020.7 835.4,1020.3 836.6,1019.9 837.9,1019.6 839.1,1019.1 840.3,1018.7 841.5,1018.2 842.6,1017.7 843.8,1017.2 844.8,1016.7 845.9,1016.1 846.9,1015.5 847.9,1014.9 848.8,1014.3 849.7,1013.7 850.6,1013.0 851.4,1012.3 852.2,1011.7 852.9,1011.0 853.6,1010.2 854.3,1009.5 854.9,1008.8 855.4,1008.0 855.9,1007.2 856.4,1006.5 856.8,1005.7 857.2,1004.9 857.5,1004.1 857.8,1003.3 858.0,1002.5 858.2,1001.7 858.3,1000.8 858.4,1000.0 858.4,999.2" fill="#ffd4a6" fill-opacity="0.7"/>
<ellipse cx="817.4" cy="972.7" rx="41.0" ry="23.5" fill="#e2ccb6" fill-opacity="0.9"/>
<polygon points="817.4,895.0 858.4,895.0 858.4,972.7 817.4,972.7 817.4,996.2" fill="url(#col)"/>
<rect x="817.4" y="895" width="6.5" height="101.2" fill="url(#hl)"/>
<rect x="854.4" y="895" width="3.5" height="77.7" fill="url(#hl)" opacity="0.6"/>
<polygon points="858.4,972.7 858.4,973.5 858.3,974.4 858.2,975.2 858.0,976.0 857.8,976.8 857.5,977.6 857.2,978.5 856.8,979.3 856.3,980.0 855.9,980.8 855.3,981.6 854.8,982.4 854.1,983.1 853.5,983.9 852.8,984.6 852.0,985.3 851.2,986.0 850.4,986.7 849.5,987.3 848.6,988.0 847.6,988.6 846.6,989.2 845.6,989.8 844.5,990.3 843.4,990.9 842.3,991.4 841.1,991.9 839.9,992.3 838.7,992.8 837.4,993.2 836.2,993.6 834.9,994.0 834.9,1020.5 836.2,1020.1 837.4,1019.7 838.7,1019.3 839.9,1018.8 841.1,1018.4 842.3,1017.9 843.4,1017.4 844.5,1016.8 845.6,1016.3 846.6,1015.7 847.6,1015.1 848.6,1014.5 849.5,1013.8 850.4,1013.2 851.2,1012.5 852.0,1011.8 852.8,1011.1 853.5,1010.4 854.1,1009.6 854.8,1008.9 855.3,1008.1 855.9,1007.3 856.3,1006.5 856.8,1005.8 857.2,1005.0 857.5,1004.1 857.8,1003.3 858.0,1002.5 858.2,1001.7 858.3,1000.9 858.4,1000.0 858.4,999.2" fill="#fa4c12"/>
<polygon points="817.4,972.7 858.4,972.7 858.4,973.5 858.3,974.4 858.2,975.2 858.0,976.0 857.8,976.8 857.5,977.6 857.2,978.5 856.8,979.3 856.3,980.0 855.9,980.8 855.3,981.6 854.8,982.4 854.1,983.1 853.5,983.9 852.8,984.6 852.0,985.3 851.2,986.0 850.4,986.7 849.5,987.3 848.6,988.0 847.6,988.6 846.6,989.2 845.6,989.8 844.5,990.3 843.4,990.9 842.3,991.4 841.1,991.9 839.9,992.3 838.7,992.8 837.4,993.2 836.2,993.6 834.9,994.0" fill="#e2714f"/>
<polygon points="817.4,972.7 834.9,994.0 833.5,994.3 832.1,994.6 830.7,994.9 829.3,995.2 827.8,995.4 826.3,995.6 824.9,995.8 823.4,995.9 821.9,996.1 820.4,996.1 818.9,996.2 817.4,996.2" fill="#e99a7e" fill-opacity="0.9"/>
<polygon points="879.6,895.0 961.6,895.0 961.6,999.2 961.6,1000.0 961.5,1000.8 961.4,1001.7 961.2,1002.5 961.0,1003.3 960.7,1004.1 960.4,1004.9 960.0,1005.7 959.6,1006.5 959.1,1007.2 958.6,1008.0 958.1,1008.8 957.5,1009.5 956.8,1010.2 956.1,1011.0 955.4,1011.7 954.6,1012.3 953.8,1013.0 952.9,1013.7 952.0,1014.3 951.1,1014.9 950.1,1015.5 949.1,1016.1 948.0,1016.7 947.0,1017.2 945.8,1017.7 944.7,1018.2 943.5,1018.7 942.3,1019.1 941.1,1019.6 939.8,1019.9 938.6,1020.3 937.3,1020.7 936.0,1021.0 934.6,1021.3 933.3,1021.5 931.9,1021.8 930.5,1022.0 929.1,1022.2 927.7,1022.3 926.3,1022.5 924.9,1022.6 923.5,1022.6 922.0,1022.7 920.6,1022.7 919.2,1022.7 917.7,1022.6 916.3,1022.6 914.9,1022.5 913.5,1022.3 912.1,1022.2 910.7,1022.0 909.3,1021.8 907.9,1021.5 906.6,1021.3 905.2,1021.0 903.9,1020.7 902.6,1020.3 901.4,1019.9 900.1,1019.6 898.9,1019.1 897.7,1018.7 896.5,1018.2 895.4,1017.7 894.2,1017.2 893.2,1016.7 892.1,1016.1 891.1,1015.5 890.1,1014.9 889.2,1014.3 888.3,1013.7 887.4,1013.0 886.6,1012.3 885.8,1011.7 885.1,1011.0 884.4,1010.2 883.7,1009.5 883.1,1008.8 882.6,1008.0 882.1,1007.2 881.6,1006.5 881.2,1005.7 880.8,1004.9 880.5,1004.1 880.2,1003.3 880.0,1002.5 879.8,1001.7 879.7,1000.8 879.6,1000.0 879.6,999.2" fill="url(#tube)"/>
<polygon points="961.6,972.7 961.6,973.5 961.5,974.3 961.4,975.2 961.2,976.0 961.0,976.8 960.7,977.6 960.4,978.4 960.0,979.2 959.6,980.0 959.1,980.7 958.6,981.5 958.1,982.3 957.5,983.0 956.8,983.7 956.1,984.5 955.4,985.2 954.6,985.8 953.8,986.5 952.9,987.2 952.0,987.8 951.1,988.4 950.1,989.0 949.1,989.6 948.0,990.2 947.0,990.7 945.8,991.2 944.7,991.7 943.5,992.2 942.3,992.6 941.1,993.1 939.8,993.4 938.6,993.8 937.3,994.2 936.0,994.5 934.6,994.8 933.3,995.0 931.9,995.3 930.5,995.5 929.1,995.7 927.7,995.8 926.3,996.0 924.9,996.1 923.5,996.1 922.0,996.2 920.6,996.2 919.2,996.2 917.7,996.1 916.3,996.1 914.9,996.0 913.5,995.8 912.1,995.7 910.7,995.5 909.3,995.3 907.9,995.0 906.6,994.8 905.2,994.5 903.9,994.2 902.6,993.8 901.4,993.4 900.1,993.1 898.9,992.6 897.7,992.2 896.5,991.7 895.4,991.2 894.2,990.7 893.2,990.2 892.1,989.6 891.1,989.0 890.1,988.4 889.2,987.8 888.3,987.2 887.4,986.5 886.6,985.8 885.8,985.2 885.1,984.5 884.4,983.7 883.7,983.0 883.1,982.3 882.6,981.5 882.1,980.7 881.6,980.0 881.2,979.2 880.8,978.4 880.5,977.6 880.2,976.8 880.0,976.0 879.8,975.2 879.7,974.3 879.6,973.5 879.6,972.7 879.6,999.2 879.6,1000.0 879.7,1000.8 879.8,1001.7 880.0,1002.5 880.2,1003.3 880.5,1004.1 880.8,1004.9 881.2,1005.7 881.6,1006.5 882.1,1007.2 882.6,1008.0 883.1,1008.8 883.7,1009.5 884.4,1010.2 885.1,1011.0 885.8,1011.7 886.6,1012.3 887.4,1013.0 888.3,1013.7 889.2,1014.3 890.1,1014.9 891.1,1015.5 892.1,1016.1 893.2,1016.7 894.2,1017.2 895.4,1017.7 896.5,1018.2 897.7,1018.7 898.9,1019.1 900.1,1019.6 901.4,1019.9 902.6,1020.3 903.9,1020.7 905.2,1021.0 906.6,1021.3 907.9,1021.5 909.3,1021.8 910.7,1022.0 912.1,1022.2 913.5,1022.3 914.9,1022.5 916.3,1022.6 917.7,1022.6 919.2,1022.7 920.6,1022.7 922.0,1022.7 923.5,1022.6 924.9,1022.6 926.3,1022.5 927.7,1022.3 929.1,1022.2 930.5,1022.0 931.9,1021.8 933.3,1021.5 934.6,1021.3 936.0,1021.0 937.3,1020.7 938.6,1020.3 939.8,1019.9 941.1,1019.6 942.3,1019.1 943.5,1018.7 944.7,1018.2 945.8,1017.7 947.0,1017.2 948.0,1016.7 949.1,1016.1 950.1,1015.5 951.1,1014.9 952.0,1014.3 952.9,1013.7 953.8,1013.0 954.6,1012.3 955.4,1011.7 956.1,1011.0 956.8,1010.2 957.5,1009.5 958.1,1008.8 958.6,1008.0 959.1,1007.2 959.6,1006.5 960.0,1005.7 960.4,1004.9 960.7,1004.1 961.0,1003.3 961.2,1002.5 961.4,1001.7 961.5,1000.8 961.6,1000.0 961.6,999.2" fill="#ffd4a6" fill-opacity="0.7"/>
<ellipse cx="920.6" cy="972.7" rx="41.0" ry="23.5" fill="#e2ccb6" fill-opacity="0.9"/>
<polygon points="920.6,895.0 961.6,895.0 961.6,972.7 920.6,972.7 920.6,996.2" fill="url(#col)"/>
<rect x="920.6" y="895" width="6.5" height="101.2" fill="url(#hl)"/>
<rect x="957.6" y="895" width="3.5" height="77.7" fill="url(#hl)" opacity="0.6"/>
<polygon points="961.6,972.7 961.6,973.5 961.5,974.4 961.4,975.2 961.2,976.0 961.0,976.8 960.7,977.6 960.4,978.5 960.0,979.3 959.5,980.0 959.1,980.8 958.5,981.6 958.0,982.4 957.3,983.1 956.7,983.9 956.0,984.6 955.2,985.3 954.4,986.0 953.6,986.7 952.7,987.3 951.8,988.0 950.8,988.6 949.8,989.2 948.8,989.8 947.7,990.3 946.6,990.9 945.5,991.4 944.3,991.9 943.1,992.3 941.9,992.8 940.6,993.2 939.4,993.6 938.1,994.0 938.1,1020.5 939.4,1020.1 940.6,1019.7 941.9,1019.3 943.1,1018.8 944.3,1018.4 945.5,1017.9 946.6,1017.4 947.7,1016.8 948.8,1016.3 949.8,1015.7 950.8,1015.1 951.8,1014.5 952.7,1013.8 953.6,1013.2 954.4,1012.5 955.2,1011.8 956.0,1011.1 956.7,1010.4 957.3,1009.6 958.0,1008.9 958.5,1008.1 959.1,1007.3 959.5,1006.5 960.0,1005.8 960.4,1005.0 960.7,1004.1 961.0,1003.3 961.2,1002.5 961.4,1001.7 961.5,1000.9 961.6,1000.0 961.6,999.2" fill="#fa4c12"/>
<polygon points="920.6,972.7 961.6,972.7 961.6,973.5 961.5,974.4 961.4,975.2 961.2,976.0 961.0,976.8 960.7,977.6 960.4,978.5 960.0,979.3 959.5,980.0 959.1,980.8 958.5,981.6 958.0,982.4 957.3,983.1 956.7,983.9 956.0,984.6 955.2,985.3 954.4,986.0 953.6,986.7 952.7,987.3 951.8,988.0 950.8,988.6 949.8,989.2 948.8,989.8 947.7,990.3 946.6,990.9 945.5,991.4 944.3,991.9 943.1,992.3 941.9,992.8 940.6,993.2 939.4,993.6 938.1,994.0" fill="#e2714f"/>
<polygon points="920.6,972.7 938.1,994.0 936.7,994.3 935.3,994.6 933.9,994.9 932.5,995.2 931.0,995.4 929.5,995.6 928.1,995.8 926.6,995.9 925.1,996.1 923.6,996.1 922.1,996.2 920.6,996.2" fill="#e99a7e" fill-opacity="0.9"/>
<g fill="#8b6a48">
 <path d="M864,1104 L883,1096 L879.5,1112.5 L874,1108 L871.5,1111.5 L871,1106 L880,1098.5 L869.5,1105.5 Z"/>
</g>
<g fill="none" stroke="#8b6a48" stroke-width="1.8">
 <rect x="889.8" y="1097.4" width="14.6" height="14" rx="3.5"/>
 <circle cx="897.1" cy="1104.4" r="3.4"/>
</g>
<circle cx="901.4" cy="1100.4" r="0.9" fill="#8b6a48"/>
</svg>
<div class="a" style="left:6px;top:1200.5px;width:25px;height:25.5px;background:#fff"></div>
<div class="a" style="left:34.5px;top:1200.5px;width:25.5px;height:25.5px;background:#fff"></div>
<div class="a" style="left:64px;top:1200.5px;width:90px;height:25.5px;background:#fff;border-radius:0 13px 13px 0"></div>
<div class="a" style="left:5px;top:1229px;width:517px;height:26px;background:#fff;border-radius:0 13px 13px 0"></div>
<div class="a" style="left:939.5px;top:1195px;width:79px;height:62px;background:#fff;border-radius:10px 0 0 10px"></div>
<svg width="1025" height="1280" viewBox="0 0 1025 1280">
<path d="M7.8,1213 L27.5,1205 L24,1222 L18.5,1217.5 L16,1221 L15.5,1215.5 L24.5,1208 L14,1214.5 Z" fill="#7a7a7a"/>
<rect x="40" y="1206" width="14.5" height="14.5" rx="3.5" fill="none" stroke="#7a7a7a" stroke-width="1.8"/>
<circle cx="47.25" cy="1213.25" r="3.4" fill="none" stroke="#7a7a7a" stroke-width="1.8"/>
<circle cx="51.6" cy="1209.2" r="0.9" fill="#7a7a7a"/>
<g fill="none" stroke="#8e8e8e" stroke-width="0.9" stroke-linejoin="round">
 <circle cx="962.8" cy="1201" r="2.2"/>
 <path d="M952,1213.5 L967,1205.8 L967,1214 L952,1222.3 Z M954,1217.5 L965,1211.8"/>
 <rect x="970.5" y="1203" width="3.6" height="24" rx="1.5"/>
 <path d="M976,1205.5 L987.5,1200 L987.5,1205.8 L976,1211.3 Z"/>
 <path d="M976,1213.5 L986,1208.5 Q990,1208 989.5,1213 L989.5,1219 L976,1226 Z M978,1217.5 L986.5,1213"/>
 <circle cx="997" cy="1207.2" r="2"/><circle cx="1002" cy="1208.2" r="2"/>
 <path d="M993,1214 Q999,1209.5 1004,1213.5 Q1006,1219 1000,1222.5 L993,1226 Z"/>
 <path d="M951.5,1228 L951.5,1251 L956,1251 L956,1230 Z"/>
 <path d="M956,1241 Q960,1233 966,1235 Q969,1240 965,1244 L956,1249 Z M959,1242 L965,1238.5"/>
 <path d="M967,1243 L978.5,1237 L978.5,1245.5 L967,1251.5 Z"/>
 <path d="M979,1240 Q983,1233.5 989,1235 L991,1243 L979,1249.5 Z M982,1242.5 L988.5,1239"/>
 <path d="M992,1232 L996,1228 L998,1236 L993,1239 Z"/>
 <rect x="999.5" y="1225" width="3.4" height="27" rx="1.2"/>
 <path d="M1004,1226 L1004,1252"/>
</g>
</svg>
<div class="t" style="left:0;top:0;font-size:36.6px;line-height:54px;color:#4a4a4a;direction:rtl;transform:matrix(1.1310,0,0,1.0000,290.39,18.00);font-weight:bold;-webkit-text-stroke:0.9px #4a4a4a;">خانواده‌های ایرانی چقدر از</div>
<div class="t" style="left:0;top:0;font-size:33.2px;line-height:49px;color:#4a4a4a;direction:rtl;transform:matrix(1.2651,0,0,1.0244,164.73,70.90);font-weight:bold;-webkit-text-stroke:0.9px #4a4a4a;">درآمدشان را برای مسکن هزینه می‌کنند؟</div>
<div class="t" style="left:0;top:0;font-size:25.2px;line-height:37px;color:#2e2a27;direction:rtl;transform:matrix(1.1330,0,0,1.0400,696.87,175.68);-webkit-text-stroke:0.5px #2e2a27;">اجزای هزینه‌های سالانه</div>
<div class="t" style="left:0;top:0;font-size:28.1px;line-height:42px;color:#2e2a27;direction:rtl;transform:matrix(0.9940,0,0,1.0000,629.01,207.00);-webkit-text-stroke:0.5px #2e2a27;">یک خانواده شهری در سال ۹۸</div>
<div class="t" style="left:0;top:0;font-size:15.0px;line-height:22px;color:#2e2a27;direction:rtl;transform:matrix(1.3611,0,0,0.9688,786.64,368.12);-webkit-text-stroke:0.5px #2e2a27;">هزینه‌های خوراکی</div>
<div class="t" style="left:0;top:0;font-size:25.7px;line-height:38px;color:#2e2a27;direction:rtl;transform:matrix(1.1750,0,0,1.0000,836.83,385.00);font-weight:bold;-webkit-text-stroke:0.2px #2e2a27;">٪۲۵</div>
<div class="t" style="left:0;top:0;font-size:16.9px;line-height:25px;color:#2e2a27;direction:rtl;transform:matrix(1.2087,0,0,0.9722,795.79,552.64);-webkit-text-stroke:0.5px #2e2a27;">بهداشت و درمان</div>
<div class="t" style="left:0;top:0;font-size:25.7px;line-height:38px;color:#2e2a27;direction:rtl;transform:matrix(0.9028,0,0,1.0000,849.60,574.00);font-weight:bold;-webkit-text-stroke:0.2px #2e2a27;">٪۱۰</div>
<div class="t" style="left:0;top:0;font-size:14.4px;line-height:21px;color:#2e2a27;direction:rtl;transform:matrix(1.5000,0,0,0.9933,714.00,622.63);-webkit-text-stroke:0.5px #2e2a27;">حمل و نقل</div>
<div class="t" style="left:0;top:0;font-size:14.4px;line-height:21px;color:#2e2a27;direction:rtl;transform:matrix(1.4383,0,0,0.9933,718.26,646.73);-webkit-text-stroke:0.5px #2e2a27;">و ارتباطات</div>
<div class="t" style="left:0;top:0;font-size:26.1px;line-height:39px;color:#2e2a27;direction:rtl;transform:matrix(0.8750,0,0,1.0167,746.12,663.52);font-weight:bold;-webkit-text-stroke:0.2px #2e2a27;">٪۱۰</div>
<div class="t" style="left:0;top:0;font-size:16.9px;line-height:25px;color:#2e2a27;direction:rtl;transform:matrix(1.0987,0,0,0.9722,830.30,649.14);-webkit-text-stroke:0.5px #2e2a27;">لوازم، اثاث</div>
<div class="t" style="left:0;top:0;font-size:15.3px;line-height:22px;color:#2e2a27;direction:rtl;transform:matrix(1.3423,0,0,0.9875,809.54,675.85);-webkit-text-stroke:0.5px #2e2a27;">و خدمات خانوار</div>
<div class="t" style="left:0;top:0;font-size:25.0px;line-height:37px;color:#2e2a27;direction:rtl;transform:matrix(1.2600,0,0,0.9722,856.74,695.78);font-weight:bold;-webkit-text-stroke:0.2px #2e2a27;">٪۴</div>
<div class="t" style="left:0;top:0;font-size:17.0px;line-height:25px;color:#2e2a27;direction:rtl;transform:matrix(1.2243,0,0,0.9778,680.98,719.11);-webkit-text-stroke:0.5px #2e2a27;">پوشاک و کفش</div>
<div class="t" style="left:0;top:0;font-size:25.4px;line-height:38px;color:#2e2a27;direction:rtl;transform:matrix(1.2885,0,0,0.9889,726.51,739.62);font-weight:bold;-webkit-text-stroke:0.2px #2e2a27;">٪۳</div>
<div class="t" style="left:0;top:0;font-size:13.5px;line-height:20px;color:#2e2a27;direction:rtl;transform:matrix(1.4625,0,0,0.9333,838.04,747.70);-webkit-text-stroke:0.5px #2e2a27;">تفریحات</div>
<div class="t" style="left:0;top:0;font-size:27.3px;line-height:40px;color:#2e2a27;direction:rtl;transform:matrix(1.0607,0,0,1.0053,857.94,765.54);font-weight:bold;-webkit-text-stroke:0.2px #2e2a27;">٪۲</div>
<div class="t" style="left:0;top:0;font-size:16.2px;line-height:24px;color:#2e2a27;direction:rtl;transform:matrix(1.2952,0,0,1.0438,110.70,560.74);-webkit-text-stroke:0.5px #2e2a27;">مسکن</div>
<div class="t" style="left:0;top:0;font-size:27.9px;line-height:41px;color:#2e2a27;direction:rtl;transform:matrix(1.1905,0,0,0.9750,116.61,582.27);font-weight:bold;-webkit-text-stroke:0.2px #2e2a27;">٪۳۶</div>
<div class="t" style="left:0;top:0;font-size:17.4px;line-height:26px;color:#2e2a27;direction:rtl;transform:matrix(1.2462,0,0,1.0000,147.35,695.00);-webkit-text-stroke:0.5px #2e2a27;">کالاهای متفرقه</div>
<div class="t" style="left:0;top:0;font-size:25.7px;line-height:38px;color:#2e2a27;direction:rtl;transform:matrix(1.0667,0,0,1.0000,200.63,717.20);font-weight:bold;-webkit-text-stroke:0.2px #2e2a27;">٪۹</div>
<div class="t" style="left:0;top:0;font-size:25.2px;line-height:37px;color:#2e2a27;direction:rtl;transform:matrix(1.1435,0,0,1.0400,193.86,822.68);-webkit-text-stroke:0.5px #2e2a27;">سهم هزینه مسکن از کل هزینه‌های خانواده های شهری</div>
<div class="t" style="left:0;top:0;font-size:17.8px;line-height:26px;color:#2e2a27;direction:rtl;transform:matrix(0.9806,0,0,0.9684,76.02,1041.46);-webkit-text-stroke:0.45px #2e2a27;">ایران</div>
<div class="t" style="left:0;top:0;font-size:17.8px;line-height:26px;color:#2e2a27;direction:rtl;transform:matrix(1.0875,0,0,0.9684,166.41,1041.46);-webkit-text-stroke:0.45px #2e2a27;">دانمارک</div>
<div class="t" style="left:0;top:0;font-size:16.0px;line-height:24px;color:#2e2a27;direction:rtl;transform:matrix(1.3644,0,0,0.9842,269.44,1044.03);-webkit-text-stroke:0.45px #2e2a27;">انگلیس</div>
<div class="t" style="left:0;top:0;font-size:17.8px;line-height:26px;color:#2e2a27;direction:rtl;transform:matrix(1.1000,0,0,0.9684,376.30,1041.46);-webkit-text-stroke:0.45px #2e2a27;">فرانسه</div>
<div class="t" style="left:0;top:0;font-size:16.5px;line-height:24px;color:#2e2a27;direction:rtl;transform:matrix(1.3469,0,0,0.9600,474.95,1043.42);-webkit-text-stroke:0.45px #2e2a27;">میانگین</div>
<div class="t" style="left:0;top:0;font-size:18.2px;line-height:27px;color:#2e2a27;direction:rtl;transform:matrix(1.0628,0,0,0.9895,459.94,1069.65);-webkit-text-stroke:0.45px #2e2a27;">اتحادیه اروپا</div>
<div class="t" style="left:0;top:0;font-size:17.8px;line-height:26px;color:#2e2a27;direction:rtl;transform:matrix(1.2560,0,0,0.9684,578.24,1041.46);-webkit-text-stroke:0.45px #2e2a27;">لهستان</div>
<div class="t" style="left:0;top:0;font-size:17.8px;line-height:26px;color:#2e2a27;direction:rtl;transform:matrix(1.1222,0,0,0.9684,693.68,1041.46);-webkit-text-stroke:0.45px #2e2a27;">یونان</div>
<div class="t" style="left:0;top:0;font-size:16.0px;line-height:24px;color:#2e2a27;direction:rtl;transform:matrix(1.1425,0,0,0.9850,793.86,1044.02);-webkit-text-stroke:0.45px #2e2a27;">آمریکا</div>
<div class="t" style="left:0;top:0;font-size:17.8px;line-height:26px;color:#2e2a27;direction:rtl;transform:matrix(1.0739,0,0,0.9684,895.73,1041.46);-webkit-text-stroke:0.45px #2e2a27;">پرتغال</div>
<div class="t" style="left:0;top:0;font-size:26.1px;line-height:39px;color:#665e58;direction:rtl;transform:matrix(1.1776,0,0,0.9706,70.39,897.32);-webkit-text-stroke:0.1px #665e58;">٪۳۶</div>
<div class="t" style="left:0;top:0;font-size:25.3px;line-height:37px;color:#665e58;direction:rtl;transform:matrix(1.0459,0,0,1.0000,176.51,898.00);-webkit-text-stroke:0.1px #665e58;">٪۲۸</div>
<div class="t" style="left:0;top:0;font-size:25.3px;line-height:37px;color:#665e58;direction:rtl;transform:matrix(1.1297,0,0,1.0000,278.34,898.00);-webkit-text-stroke:0.1px #665e58;">٪۲۷</div>
<div class="t" style="left:0;top:0;font-size:25.3px;line-height:37px;color:#665e58;direction:rtl;transform:matrix(1.1714,0,0,1.0000,381.66,898.00);-webkit-text-stroke:0.1px #665e58;">٪۲۶</div>
<div class="t" style="left:0;top:0;font-size:26.4px;line-height:39px;color:#665e58;direction:rtl;transform:matrix(1.1132,0,0,0.9824,484.57,897.89);-webkit-text-stroke:0.1px #665e58;">٪۲۴</div>
<div class="t" style="left:0;top:0;font-size:25.3px;line-height:37px;color:#665e58;direction:rtl;transform:matrix(1.0273,0,0,1.0000,592.05,898.00);-webkit-text-stroke:0.1px #665e58;">٪۲۱</div>
<div class="t" style="left:0;top:0;font-size:25.3px;line-height:37px;color:#665e58;direction:rtl;transform:matrix(1.0406,0,0,1.0000,696.42,898.00);-webkit-text-stroke:0.1px #665e58;">٪۲۰</div>
<div class="t" style="left:0;top:0;font-size:25.3px;line-height:37px;color:#665e58;direction:rtl;transform:matrix(0.9270,0,0,1.0000,798.95,898.00);-webkit-text-stroke:0.1px #665e58;">٪۱۸</div>
<div class="t" style="left:0;top:0;font-size:25.3px;line-height:37px;color:#665e58;direction:rtl;transform:matrix(0.9405,0,0,1.0000,901.92,898.00);-webkit-text-stroke:0.1px #665e58;">٪۱۸</div>
<div class="t" style="left:0;top:0;font-size:16.9px;line-height:25px;color:#8b6a48;direction:ltr;transform:matrix(1.0371,0,0,1.0333,909.26,1090.50);-webkit-text-stroke:0.2px #8b6a48;">Ecohame</div>
<div class="t" style="left:0;top:0;font-size:18.7px;line-height:28px;color:#787878;direction:ltr;transform:matrix(0.9766,0,0,1.0538,68.72,1198.42);-webkit-text-stroke:0.2px #787878;">Ecohame</div>
<div class="t" style="left:0;top:0;font-size:14.8px;line-height:22px;color:#787878;direction:ltr;transform:matrix(1.2406,0,0,0.9867,7.56,1229.07);-webkit-text-stroke:0.2px #787878;">European Comission, U.S. bureau of labor statistics, SCI :منبع</div>
</body></html>
